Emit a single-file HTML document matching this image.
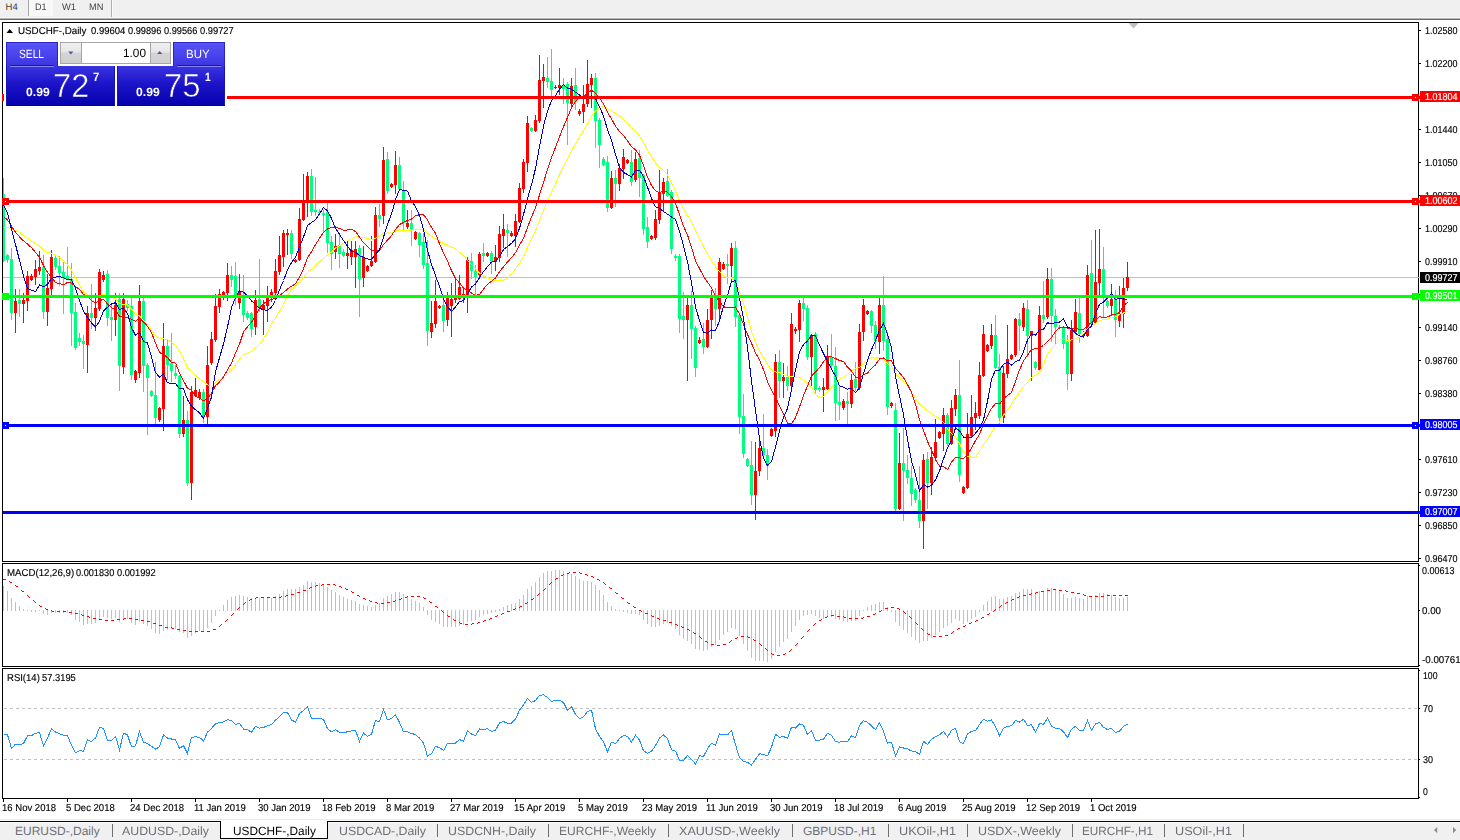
<!DOCTYPE html><html><head><meta charset="utf-8"><title>USDCHF-,Daily</title><style>
html,body{margin:0;padding:0;background:#fff;}body{width:1460px;height:840px;position:relative;overflow:hidden;font-family:"Liberation Sans",sans-serif;}
.t{position:absolute;white-space:nowrap;transform-origin:0 50%;text-rendering:geometricPrecision;}
.k{-webkit-text-stroke:0.15px;}.w{-webkit-text-stroke:0.2px #fff;}
.b{position:absolute;}
svg{position:absolute;left:0;top:0;}
</style></head><body>
<div class="b" style="left:0;top:0;width:1460px;height:17px;background:#f0f0f0"></div>
<div class="b" style="left:0;top:17px;width:1460px;height:1px;background:#f6f6f6"></div>
<div class="b" style="left:0;top:18px;width:1460px;height:1px;background:#b4b4b4"></div>
<div class="b" style="left:0;top:19px;width:1460px;height:1px;background:#696969"></div>
<div class="b" style="left:29px;top:0;width:24px;height:16px;background:#f8f8f8"></div>
<div class="b" style="left:28px;top:0;width:1px;height:16px;background:#a8a8a8"></div>
<div class="b" style="left:111px;top:0;width:1px;height:17px;background:#b0b0b0"></div>
<div class="b" style="left:112px;top:0;width:1px;height:17px;background:#fafafa"></div>
<div class="t" style="left:5.60px;top:3.00px;font-size:9.5px;line-height:9.5px;color:#454545;">H4</div>
<div class="t" style="left:34.50px;top:3.00px;font-size:9.5px;line-height:9.5px;color:#454545;transform:scaleX(0.9469);">D1</div>
<div class="t" style="left:62.00px;top:3.00px;font-size:9.5px;line-height:9.5px;color:#454545;transform:scaleX(0.9825);">W1</div>
<div class="t" style="left:88.70px;top:3.00px;font-size:9.5px;line-height:9.5px;color:#454545;transform:scaleX(0.9679);">MN</div>
<div class="b" style="left:0;top:20px;width:2px;height:800px;background:#fff"></div>
<svg width="1460" height="840" viewBox="0 0 1460 840" shape-rendering="crispEdges">
<rect x="3" y="277" width="1415" height="1" fill="#c0c0c0"/>
<path d="M1128.5 23 L1138.5 23 L1133.5 28.5 Z" fill="#c0c0c0" shape-rendering="auto"/>
<g>
<rect x="3" y="178" width="1" height="84" fill="#00FF7F"/>
<rect x="3" y="194" width="2" height="67" fill="#00FF7F"/>
<rect x="7" y="254" width="1" height="9" fill="#00FF7F"/>
<rect x="6" y="255" width="3" height="5" fill="#00FF7F"/>
<rect x="11" y="248" width="1" height="72" fill="#00FF7F"/>
<rect x="10" y="259" width="3" height="54" fill="#00FF7F"/>
<rect x="15" y="289" width="1" height="44" fill="#FF0000"/>
<rect x="14" y="301" width="3" height="12" fill="#FF0000"/>
<rect x="19" y="289" width="1" height="28" fill="#00FF7F"/>
<rect x="18" y="300" width="3" height="4" fill="#00FF7F"/>
<rect x="23" y="293" width="1" height="30" fill="#FF0000"/>
<rect x="22" y="300" width="3" height="4" fill="#FF0000"/>
<rect x="27" y="271" width="1" height="40" fill="#FF0000"/>
<rect x="26" y="276" width="3" height="25" fill="#FF0000"/>
<rect x="31" y="274" width="1" height="7" fill="#FF0000"/>
<rect x="30" y="276" width="3" height="4" fill="#FF0000"/>
<rect x="35" y="260" width="1" height="25" fill="#FF0000"/>
<rect x="34" y="269" width="3" height="8" fill="#FF0000"/>
<rect x="39" y="251" width="1" height="24" fill="#FF0000"/>
<rect x="38" y="267" width="3" height="4" fill="#FF0000"/>
<rect x="43" y="255" width="1" height="64" fill="#00FF7F"/>
<rect x="42" y="267" width="3" height="45" fill="#00FF7F"/>
<rect x="47" y="274" width="1" height="52" fill="#FF0000"/>
<rect x="46" y="288" width="3" height="24" fill="#FF0000"/>
<rect x="51" y="250" width="1" height="45" fill="#FF0000"/>
<rect x="50" y="257" width="3" height="32" fill="#FF0000"/>
<rect x="55" y="255" width="1" height="15" fill="#00FF7F"/>
<rect x="54" y="258" width="3" height="9" fill="#00FF7F"/>
<rect x="59" y="256" width="1" height="30" fill="#00FF7F"/>
<rect x="58" y="266" width="3" height="7" fill="#00FF7F"/>
<rect x="63" y="262" width="1" height="52" fill="#00FF7F"/>
<rect x="62" y="272" width="3" height="6" fill="#00FF7F"/>
<rect x="67" y="247" width="1" height="32" fill="#00FF7F"/>
<rect x="66" y="276" width="3" height="3" fill="#00FF7F"/>
<rect x="71" y="263" width="1" height="83" fill="#00FF7F"/>
<rect x="70" y="279" width="3" height="34" fill="#00FF7F"/>
<rect x="75" y="303" width="1" height="47" fill="#00FF7F"/>
<rect x="74" y="312" width="3" height="36" fill="#00FF7F"/>
<rect x="79" y="333" width="1" height="13" fill="#00FF7F"/>
<rect x="78" y="338" width="3" height="4" fill="#00FF7F"/>
<rect x="83" y="335" width="1" height="34" fill="#00FF7F"/>
<rect x="82" y="341" width="3" height="3" fill="#00FF7F"/>
<rect x="87" y="306" width="1" height="67" fill="#FF0000"/>
<rect x="86" y="313" width="3" height="32" fill="#FF0000"/>
<rect x="91" y="284" width="1" height="45" fill="#00FF7F"/>
<rect x="90" y="313" width="3" height="5" fill="#00FF7F"/>
<rect x="95" y="293" width="1" height="38" fill="#FF0000"/>
<rect x="94" y="308" width="3" height="10" fill="#FF0000"/>
<rect x="99" y="269" width="1" height="42" fill="#FF0000"/>
<rect x="98" y="272" width="3" height="37" fill="#FF0000"/>
<rect x="103" y="271" width="1" height="11" fill="#FF0000"/>
<rect x="102" y="275" width="3" height="5" fill="#FF0000"/>
<rect x="107" y="270" width="1" height="56" fill="#00FF7F"/>
<rect x="106" y="274" width="3" height="44" fill="#00FF7F"/>
<rect x="111" y="305" width="1" height="36" fill="#00FF7F"/>
<rect x="110" y="317" width="3" height="3" fill="#00FF7F"/>
<rect x="115" y="293" width="1" height="43" fill="#FF0000"/>
<rect x="114" y="305" width="3" height="15" fill="#FF0000"/>
<rect x="119" y="293" width="1" height="98" fill="#00FF7F"/>
<rect x="118" y="299" width="3" height="67" fill="#00FF7F"/>
<rect x="123" y="293" width="1" height="81" fill="#FF0000"/>
<rect x="122" y="299" width="3" height="68" fill="#FF0000"/>
<rect x="127" y="300" width="1" height="11" fill="#00FF7F"/>
<rect x="126" y="304" width="3" height="4" fill="#00FF7F"/>
<rect x="131" y="298" width="1" height="82" fill="#00FF7F"/>
<rect x="130" y="306" width="3" height="69" fill="#00FF7F"/>
<rect x="135" y="370" width="1" height="13" fill="#FF0000"/>
<rect x="134" y="371" width="3" height="9" fill="#FF0000"/>
<rect x="139" y="285" width="1" height="93" fill="#FF0000"/>
<rect x="138" y="301" width="3" height="72" fill="#FF0000"/>
<rect x="143" y="298" width="1" height="94" fill="#00FF7F"/>
<rect x="142" y="301" width="3" height="65" fill="#00FF7F"/>
<rect x="147" y="363" width="1" height="72" fill="#00FF7F"/>
<rect x="146" y="365" width="3" height="13" fill="#00FF7F"/>
<rect x="151" y="390" width="1" height="7" fill="#00FF7F"/>
<rect x="150" y="391" width="3" height="5" fill="#00FF7F"/>
<rect x="155" y="362" width="1" height="62" fill="#00FF7F"/>
<rect x="154" y="395" width="3" height="23" fill="#00FF7F"/>
<rect x="159" y="407" width="1" height="15" fill="#FF0000"/>
<rect x="158" y="408" width="3" height="12" fill="#FF0000"/>
<rect x="163" y="323" width="1" height="108" fill="#FF0000"/>
<rect x="162" y="346" width="3" height="63" fill="#FF0000"/>
<rect x="167" y="340" width="1" height="40" fill="#00FF7F"/>
<rect x="166" y="346" width="3" height="19" fill="#00FF7F"/>
<rect x="171" y="333" width="1" height="49" fill="#00FF7F"/>
<rect x="170" y="363" width="3" height="8" fill="#00FF7F"/>
<rect x="175" y="365" width="1" height="14" fill="#00FF7F"/>
<rect x="174" y="373" width="3" height="3" fill="#00FF7F"/>
<rect x="179" y="375" width="1" height="63" fill="#00FF7F"/>
<rect x="178" y="376" width="3" height="58" fill="#00FF7F"/>
<rect x="183" y="396" width="1" height="41" fill="#FF0000"/>
<rect x="182" y="420" width="3" height="14" fill="#FF0000"/>
<rect x="187" y="411" width="1" height="75" fill="#00FF7F"/>
<rect x="186" y="420" width="3" height="63" fill="#00FF7F"/>
<rect x="191" y="386" width="1" height="114" fill="#FF0000"/>
<rect x="190" y="392" width="3" height="91" fill="#FF0000"/>
<rect x="195" y="378" width="1" height="19" fill="#FF0000"/>
<rect x="194" y="390" width="3" height="6" fill="#FF0000"/>
<rect x="199" y="389" width="1" height="11" fill="#FF0000"/>
<rect x="198" y="392" width="3" height="6" fill="#FF0000"/>
<rect x="203" y="389" width="1" height="34" fill="#00FF7F"/>
<rect x="202" y="392" width="3" height="25" fill="#00FF7F"/>
<rect x="207" y="346" width="1" height="78" fill="#FF0000"/>
<rect x="206" y="365" width="3" height="52" fill="#FF0000"/>
<rect x="211" y="332" width="1" height="33" fill="#FF0000"/>
<rect x="210" y="339" width="3" height="24" fill="#FF0000"/>
<rect x="215" y="294" width="1" height="48" fill="#FF0000"/>
<rect x="214" y="306" width="3" height="34" fill="#FF0000"/>
<rect x="219" y="289" width="1" height="24" fill="#FF0000"/>
<rect x="218" y="294" width="3" height="13" fill="#FF0000"/>
<rect x="223" y="291" width="1" height="9" fill="#FF0000"/>
<rect x="222" y="292" width="3" height="4" fill="#FF0000"/>
<rect x="227" y="263" width="1" height="38" fill="#FF0000"/>
<rect x="226" y="275" width="3" height="18" fill="#FF0000"/>
<rect x="231" y="266" width="1" height="21" fill="#00FF7F"/>
<rect x="230" y="275" width="3" height="5" fill="#00FF7F"/>
<rect x="235" y="262" width="1" height="43" fill="#00FF7F"/>
<rect x="234" y="276" width="3" height="20" fill="#00FF7F"/>
<rect x="239" y="274" width="1" height="35" fill="#FF0000"/>
<rect x="238" y="291" width="3" height="12" fill="#FF0000"/>
<rect x="243" y="275" width="1" height="47" fill="#00FF7F"/>
<rect x="242" y="296" width="3" height="19" fill="#00FF7F"/>
<rect x="247" y="311" width="1" height="9" fill="#00FF7F"/>
<rect x="246" y="313" width="3" height="5" fill="#00FF7F"/>
<rect x="251" y="312" width="1" height="25" fill="#00FF7F"/>
<rect x="250" y="313" width="3" height="16" fill="#00FF7F"/>
<rect x="255" y="290" width="1" height="45" fill="#FF0000"/>
<rect x="254" y="300" width="3" height="27" fill="#FF0000"/>
<rect x="259" y="259" width="1" height="53" fill="#00FF7F"/>
<rect x="258" y="299" width="3" height="9" fill="#00FF7F"/>
<rect x="263" y="300" width="1" height="35" fill="#FF0000"/>
<rect x="262" y="305" width="3" height="4" fill="#FF0000"/>
<rect x="267" y="286" width="1" height="36" fill="#FF0000"/>
<rect x="266" y="297" width="3" height="9" fill="#FF0000"/>
<rect x="271" y="289" width="1" height="13" fill="#FF0000"/>
<rect x="270" y="292" width="3" height="4" fill="#FF0000"/>
<rect x="275" y="259" width="1" height="36" fill="#FF0000"/>
<rect x="274" y="271" width="3" height="22" fill="#FF0000"/>
<rect x="279" y="236" width="1" height="39" fill="#FF0000"/>
<rect x="278" y="255" width="3" height="17" fill="#FF0000"/>
<rect x="283" y="230" width="1" height="37" fill="#FF0000"/>
<rect x="282" y="233" width="3" height="24" fill="#FF0000"/>
<rect x="287" y="229" width="1" height="26" fill="#FF0000"/>
<rect x="286" y="233" width="3" height="2" fill="#FF0000"/>
<rect x="291" y="230" width="1" height="29" fill="#00FF7F"/>
<rect x="290" y="233" width="3" height="21" fill="#00FF7F"/>
<rect x="295" y="259" width="1" height="4" fill="#FF0000"/>
<rect x="294" y="260" width="3" height="2" fill="#FF0000"/>
<rect x="299" y="208" width="1" height="53" fill="#FF0000"/>
<rect x="298" y="219" width="3" height="41" fill="#FF0000"/>
<rect x="303" y="174" width="1" height="47" fill="#FF0000"/>
<rect x="302" y="201" width="3" height="19" fill="#FF0000"/>
<rect x="307" y="172" width="1" height="45" fill="#FF0000"/>
<rect x="306" y="176" width="3" height="25" fill="#FF0000"/>
<rect x="311" y="169" width="1" height="47" fill="#00FF7F"/>
<rect x="310" y="176" width="3" height="36" fill="#00FF7F"/>
<rect x="315" y="177" width="1" height="39" fill="#00FF7F"/>
<rect x="314" y="210" width="3" height="2" fill="#00FF7F"/>
<rect x="319" y="209" width="1" height="6" fill="#00FF7F"/>
<rect x="318" y="212" width="3" height="1" fill="#00FF7F"/>
<rect x="323" y="210" width="1" height="23" fill="#00FF7F"/>
<rect x="322" y="213" width="3" height="2" fill="#00FF7F"/>
<rect x="327" y="203" width="1" height="50" fill="#00FF7F"/>
<rect x="326" y="212" width="3" height="31" fill="#00FF7F"/>
<rect x="331" y="236" width="1" height="34" fill="#00FF7F"/>
<rect x="330" y="242" width="3" height="12" fill="#00FF7F"/>
<rect x="335" y="234" width="1" height="25" fill="#FF0000"/>
<rect x="334" y="246" width="3" height="6" fill="#FF0000"/>
<rect x="339" y="235" width="1" height="33" fill="#00FF7F"/>
<rect x="338" y="245" width="3" height="9" fill="#00FF7F"/>
<rect x="343" y="249" width="1" height="8" fill="#00FF7F"/>
<rect x="342" y="252" width="3" height="4" fill="#00FF7F"/>
<rect x="347" y="240" width="1" height="29" fill="#FF0000"/>
<rect x="346" y="253" width="3" height="3" fill="#FF0000"/>
<rect x="351" y="241" width="1" height="24" fill="#FF0000"/>
<rect x="350" y="250" width="3" height="7" fill="#FF0000"/>
<rect x="355" y="241" width="1" height="47" fill="#FF0000"/>
<rect x="354" y="249" width="3" height="8" fill="#FF0000"/>
<rect x="359" y="245" width="1" height="72" fill="#00FF7F"/>
<rect x="358" y="248" width="3" height="31" fill="#00FF7F"/>
<rect x="363" y="246" width="1" height="41" fill="#FF0000"/>
<rect x="362" y="257" width="3" height="21" fill="#FF0000"/>
<rect x="367" y="265" width="1" height="7" fill="#FF0000"/>
<rect x="366" y="266" width="3" height="5" fill="#FF0000"/>
<rect x="371" y="236" width="1" height="31" fill="#FF0000"/>
<rect x="370" y="261" width="3" height="5" fill="#FF0000"/>
<rect x="375" y="207" width="1" height="56" fill="#FF0000"/>
<rect x="374" y="215" width="3" height="47" fill="#FF0000"/>
<rect x="379" y="204" width="1" height="23" fill="#00FF7F"/>
<rect x="378" y="215" width="3" height="4" fill="#00FF7F"/>
<rect x="383" y="147" width="1" height="77" fill="#FF0000"/>
<rect x="382" y="160" width="3" height="56" fill="#FF0000"/>
<rect x="387" y="152" width="1" height="42" fill="#00FF7F"/>
<rect x="386" y="159" width="3" height="32" fill="#00FF7F"/>
<rect x="391" y="183" width="1" height="5" fill="#FF0000"/>
<rect x="390" y="184" width="3" height="3" fill="#FF0000"/>
<rect x="395" y="151" width="1" height="43" fill="#FF0000"/>
<rect x="394" y="165" width="3" height="20" fill="#FF0000"/>
<rect x="399" y="157" width="1" height="34" fill="#00FF7F"/>
<rect x="398" y="165" width="3" height="24" fill="#00FF7F"/>
<rect x="403" y="181" width="1" height="50" fill="#00FF7F"/>
<rect x="402" y="191" width="3" height="32" fill="#00FF7F"/>
<rect x="407" y="210" width="1" height="19" fill="#FF0000"/>
<rect x="406" y="223" width="3" height="4" fill="#FF0000"/>
<rect x="411" y="210" width="1" height="36" fill="#00FF7F"/>
<rect x="410" y="223" width="3" height="6" fill="#00FF7F"/>
<rect x="415" y="231" width="1" height="9" fill="#FF0000"/>
<rect x="414" y="232" width="3" height="7" fill="#FF0000"/>
<rect x="419" y="232" width="1" height="25" fill="#00FF7F"/>
<rect x="418" y="233" width="3" height="12" fill="#00FF7F"/>
<rect x="423" y="233" width="1" height="36" fill="#00FF7F"/>
<rect x="422" y="242" width="3" height="23" fill="#00FF7F"/>
<rect x="427" y="240" width="1" height="106" fill="#00FF7F"/>
<rect x="426" y="263" width="3" height="68" fill="#00FF7F"/>
<rect x="431" y="301" width="1" height="37" fill="#FF0000"/>
<rect x="430" y="323" width="3" height="9" fill="#FF0000"/>
<rect x="435" y="280" width="1" height="48" fill="#FF0000"/>
<rect x="434" y="301" width="3" height="23" fill="#FF0000"/>
<rect x="439" y="305" width="1" height="4" fill="#FF0000"/>
<rect x="438" y="306" width="3" height="2" fill="#FF0000"/>
<rect x="443" y="297" width="1" height="35" fill="#00FF7F"/>
<rect x="442" y="305" width="3" height="16" fill="#00FF7F"/>
<rect x="447" y="292" width="1" height="34" fill="#FF0000"/>
<rect x="446" y="297" width="3" height="23" fill="#FF0000"/>
<rect x="451" y="283" width="1" height="54" fill="#FF0000"/>
<rect x="450" y="299" width="3" height="7" fill="#FF0000"/>
<rect x="455" y="279" width="1" height="24" fill="#FF0000"/>
<rect x="454" y="298" width="3" height="2" fill="#FF0000"/>
<rect x="459" y="275" width="1" height="25" fill="#FF0000"/>
<rect x="458" y="287" width="3" height="12" fill="#FF0000"/>
<rect x="463" y="287" width="1" height="16" fill="#FF0000"/>
<rect x="462" y="294" width="3" height="4" fill="#FF0000"/>
<rect x="467" y="257" width="1" height="56" fill="#FF0000"/>
<rect x="466" y="260" width="3" height="36" fill="#FF0000"/>
<rect x="471" y="253" width="1" height="26" fill="#00FF7F"/>
<rect x="470" y="261" width="3" height="10" fill="#00FF7F"/>
<rect x="475" y="265" width="1" height="31" fill="#00FF7F"/>
<rect x="474" y="271" width="3" height="6" fill="#00FF7F"/>
<rect x="479" y="252" width="1" height="26" fill="#FF0000"/>
<rect x="478" y="254" width="3" height="21" fill="#FF0000"/>
<rect x="483" y="243" width="1" height="19" fill="#00FF7F"/>
<rect x="482" y="253" width="3" height="3" fill="#00FF7F"/>
<rect x="487" y="252" width="1" height="5" fill="#FF0000"/>
<rect x="486" y="253" width="3" height="3" fill="#FF0000"/>
<rect x="491" y="251" width="1" height="23" fill="#00FF7F"/>
<rect x="490" y="253" width="3" height="8" fill="#00FF7F"/>
<rect x="495" y="245" width="1" height="26" fill="#FF0000"/>
<rect x="494" y="257" width="3" height="5" fill="#FF0000"/>
<rect x="499" y="226" width="1" height="36" fill="#FF0000"/>
<rect x="498" y="234" width="3" height="24" fill="#FF0000"/>
<rect x="503" y="214" width="1" height="34" fill="#FF0000"/>
<rect x="502" y="229" width="3" height="7" fill="#FF0000"/>
<rect x="507" y="224" width="1" height="33" fill="#00FF7F"/>
<rect x="506" y="230" width="3" height="3" fill="#00FF7F"/>
<rect x="511" y="231" width="1" height="6" fill="#FF0000"/>
<rect x="510" y="233" width="3" height="3" fill="#FF0000"/>
<rect x="515" y="214" width="1" height="33" fill="#FF0000"/>
<rect x="514" y="221" width="3" height="15" fill="#FF0000"/>
<rect x="519" y="183" width="1" height="40" fill="#FF0000"/>
<rect x="518" y="188" width="3" height="34" fill="#FF0000"/>
<rect x="523" y="159" width="1" height="34" fill="#FF0000"/>
<rect x="522" y="162" width="3" height="27" fill="#FF0000"/>
<rect x="527" y="116" width="1" height="56" fill="#FF0000"/>
<rect x="526" y="123" width="3" height="40" fill="#FF0000"/>
<rect x="531" y="127" width="1" height="5" fill="#00FF7F"/>
<rect x="530" y="128" width="3" height="3" fill="#00FF7F"/>
<rect x="535" y="115" width="1" height="17" fill="#FF0000"/>
<rect x="534" y="120" width="3" height="11" fill="#FF0000"/>
<rect x="539" y="55" width="1" height="68" fill="#FF0000"/>
<rect x="538" y="80" width="3" height="41" fill="#FF0000"/>
<rect x="543" y="64" width="1" height="44" fill="#FF0000"/>
<rect x="542" y="77" width="3" height="4" fill="#FF0000"/>
<rect x="547" y="57" width="1" height="31" fill="#00FF7F"/>
<rect x="546" y="78" width="3" height="4" fill="#00FF7F"/>
<rect x="551" y="49" width="1" height="48" fill="#00FF7F"/>
<rect x="550" y="81" width="3" height="9" fill="#00FF7F"/>
<rect x="555" y="85" width="1" height="4" fill="#FF0000"/>
<rect x="554" y="87" width="3" height="1" fill="#FF0000"/>
<rect x="559" y="68" width="1" height="27" fill="#FF0000"/>
<rect x="558" y="85" width="3" height="3" fill="#FF0000"/>
<rect x="563" y="78" width="1" height="26" fill="#00FF7F"/>
<rect x="562" y="85" width="3" height="4" fill="#00FF7F"/>
<rect x="567" y="82" width="1" height="63" fill="#00FF7F"/>
<rect x="566" y="84" width="3" height="19" fill="#00FF7F"/>
<rect x="571" y="78" width="1" height="29" fill="#FF0000"/>
<rect x="570" y="86" width="3" height="18" fill="#FF0000"/>
<rect x="575" y="68" width="1" height="42" fill="#00FF7F"/>
<rect x="574" y="85" width="3" height="17" fill="#00FF7F"/>
<rect x="579" y="109" width="1" height="7" fill="#FF0000"/>
<rect x="578" y="111" width="3" height="3" fill="#FF0000"/>
<rect x="583" y="85" width="1" height="38" fill="#FF0000"/>
<rect x="582" y="104" width="3" height="8" fill="#FF0000"/>
<rect x="587" y="60" width="1" height="47" fill="#FF0000"/>
<rect x="586" y="84" width="3" height="20" fill="#FF0000"/>
<rect x="591" y="74" width="1" height="34" fill="#FF0000"/>
<rect x="590" y="78" width="3" height="7" fill="#FF0000"/>
<rect x="595" y="73" width="1" height="75" fill="#00FF7F"/>
<rect x="594" y="78" width="3" height="43" fill="#00FF7F"/>
<rect x="599" y="118" width="1" height="50" fill="#00FF7F"/>
<rect x="598" y="120" width="3" height="25" fill="#00FF7F"/>
<rect x="603" y="157" width="1" height="9" fill="#00FF7F"/>
<rect x="602" y="159" width="3" height="6" fill="#00FF7F"/>
<rect x="607" y="156" width="1" height="56" fill="#00FF7F"/>
<rect x="606" y="162" width="3" height="46" fill="#00FF7F"/>
<rect x="611" y="171" width="1" height="38" fill="#FF0000"/>
<rect x="610" y="178" width="3" height="30" fill="#FF0000"/>
<rect x="615" y="170" width="1" height="37" fill="#00FF7F"/>
<rect x="614" y="178" width="3" height="6" fill="#00FF7F"/>
<rect x="619" y="164" width="1" height="27" fill="#FF0000"/>
<rect x="618" y="168" width="3" height="16" fill="#FF0000"/>
<rect x="623" y="149" width="1" height="30" fill="#FF0000"/>
<rect x="622" y="157" width="3" height="12" fill="#FF0000"/>
<rect x="627" y="159" width="1" height="5" fill="#FF0000"/>
<rect x="626" y="160" width="3" height="3" fill="#FF0000"/>
<rect x="631" y="150" width="1" height="36" fill="#00FF7F"/>
<rect x="630" y="162" width="3" height="20" fill="#00FF7F"/>
<rect x="635" y="152" width="1" height="30" fill="#FF0000"/>
<rect x="634" y="159" width="3" height="21" fill="#FF0000"/>
<rect x="639" y="150" width="1" height="47" fill="#00FF7F"/>
<rect x="638" y="158" width="3" height="20" fill="#00FF7F"/>
<rect x="643" y="174" width="1" height="61" fill="#00FF7F"/>
<rect x="642" y="175" width="3" height="54" fill="#00FF7F"/>
<rect x="647" y="217" width="1" height="31" fill="#00FF7F"/>
<rect x="646" y="227" width="3" height="15" fill="#00FF7F"/>
<rect x="651" y="235" width="1" height="5" fill="#FF0000"/>
<rect x="650" y="236" width="3" height="3" fill="#FF0000"/>
<rect x="655" y="210" width="1" height="30" fill="#FF0000"/>
<rect x="654" y="219" width="3" height="19" fill="#FF0000"/>
<rect x="659" y="170" width="1" height="54" fill="#FF0000"/>
<rect x="658" y="192" width="3" height="28" fill="#FF0000"/>
<rect x="663" y="178" width="1" height="34" fill="#FF0000"/>
<rect x="662" y="182" width="3" height="12" fill="#FF0000"/>
<rect x="667" y="169" width="1" height="28" fill="#00FF7F"/>
<rect x="666" y="181" width="3" height="15" fill="#00FF7F"/>
<rect x="671" y="190" width="1" height="64" fill="#00FF7F"/>
<rect x="670" y="192" width="3" height="57" fill="#00FF7F"/>
<rect x="675" y="254" width="1" height="7" fill="#00FF7F"/>
<rect x="674" y="256" width="3" height="2" fill="#00FF7F"/>
<rect x="679" y="254" width="1" height="79" fill="#00FF7F"/>
<rect x="678" y="256" width="3" height="63" fill="#00FF7F"/>
<rect x="683" y="292" width="1" height="47" fill="#00FF7F"/>
<rect x="682" y="316" width="3" height="4" fill="#00FF7F"/>
<rect x="687" y="298" width="1" height="83" fill="#FF0000"/>
<rect x="686" y="305" width="3" height="15" fill="#FF0000"/>
<rect x="691" y="291" width="1" height="68" fill="#00FF7F"/>
<rect x="690" y="305" width="3" height="24" fill="#00FF7F"/>
<rect x="695" y="326" width="1" height="51" fill="#00FF7F"/>
<rect x="694" y="328" width="3" height="40" fill="#00FF7F"/>
<rect x="699" y="337" width="1" height="7" fill="#FF0000"/>
<rect x="698" y="340" width="3" height="3" fill="#FF0000"/>
<rect x="703" y="323" width="1" height="31" fill="#00FF7F"/>
<rect x="702" y="339" width="3" height="8" fill="#00FF7F"/>
<rect x="707" y="309" width="1" height="39" fill="#FF0000"/>
<rect x="706" y="320" width="3" height="27" fill="#FF0000"/>
<rect x="711" y="290" width="1" height="49" fill="#FF0000"/>
<rect x="710" y="298" width="3" height="22" fill="#FF0000"/>
<rect x="715" y="288" width="1" height="38" fill="#00FF7F"/>
<rect x="714" y="298" width="3" height="11" fill="#00FF7F"/>
<rect x="719" y="258" width="1" height="62" fill="#FF0000"/>
<rect x="718" y="262" width="3" height="47" fill="#FF0000"/>
<rect x="723" y="262" width="1" height="8" fill="#FF0000"/>
<rect x="722" y="264" width="3" height="5" fill="#FF0000"/>
<rect x="727" y="254" width="1" height="30" fill="#00FF7F"/>
<rect x="726" y="264" width="3" height="2" fill="#00FF7F"/>
<rect x="731" y="243" width="1" height="39" fill="#FF0000"/>
<rect x="730" y="248" width="3" height="18" fill="#FF0000"/>
<rect x="735" y="241" width="1" height="86" fill="#00FF7F"/>
<rect x="734" y="248" width="3" height="69" fill="#00FF7F"/>
<rect x="739" y="313" width="1" height="121" fill="#00FF7F"/>
<rect x="738" y="315" width="3" height="102" fill="#00FF7F"/>
<rect x="743" y="394" width="1" height="64" fill="#00FF7F"/>
<rect x="742" y="416" width="3" height="38" fill="#00FF7F"/>
<rect x="747" y="458" width="1" height="9" fill="#00FF7F"/>
<rect x="746" y="459" width="3" height="7" fill="#00FF7F"/>
<rect x="751" y="441" width="1" height="64" fill="#00FF7F"/>
<rect x="750" y="465" width="3" height="30" fill="#00FF7F"/>
<rect x="755" y="442" width="1" height="78" fill="#FF0000"/>
<rect x="754" y="471" width="3" height="24" fill="#FF0000"/>
<rect x="759" y="440" width="1" height="36" fill="#FF0000"/>
<rect x="758" y="448" width="3" height="23" fill="#FF0000"/>
<rect x="763" y="414" width="1" height="44" fill="#00FF7F"/>
<rect x="762" y="448" width="3" height="7" fill="#00FF7F"/>
<rect x="767" y="449" width="1" height="31" fill="#00FF7F"/>
<rect x="766" y="455" width="3" height="11" fill="#00FF7F"/>
<rect x="771" y="428" width="1" height="9" fill="#FF0000"/>
<rect x="770" y="429" width="3" height="7" fill="#FF0000"/>
<rect x="775" y="354" width="1" height="83" fill="#FF0000"/>
<rect x="774" y="362" width="3" height="69" fill="#FF0000"/>
<rect x="779" y="350" width="1" height="48" fill="#00FF7F"/>
<rect x="778" y="362" width="3" height="19" fill="#00FF7F"/>
<rect x="783" y="363" width="1" height="35" fill="#FF0000"/>
<rect x="782" y="377" width="3" height="4" fill="#FF0000"/>
<rect x="787" y="366" width="1" height="25" fill="#00FF7F"/>
<rect x="786" y="377" width="3" height="9" fill="#00FF7F"/>
<rect x="791" y="313" width="1" height="74" fill="#FF0000"/>
<rect x="790" y="324" width="3" height="62" fill="#FF0000"/>
<rect x="795" y="327" width="1" height="7" fill="#FF0000"/>
<rect x="794" y="329" width="3" height="2" fill="#FF0000"/>
<rect x="799" y="300" width="1" height="42" fill="#FF0000"/>
<rect x="798" y="303" width="3" height="27" fill="#FF0000"/>
<rect x="803" y="298" width="1" height="23" fill="#00FF7F"/>
<rect x="802" y="303" width="3" height="6" fill="#00FF7F"/>
<rect x="807" y="305" width="1" height="55" fill="#00FF7F"/>
<rect x="806" y="308" width="3" height="49" fill="#00FF7F"/>
<rect x="811" y="334" width="1" height="52" fill="#FF0000"/>
<rect x="810" y="335" width="3" height="22" fill="#FF0000"/>
<rect x="815" y="332" width="1" height="63" fill="#00FF7F"/>
<rect x="814" y="334" width="3" height="56" fill="#00FF7F"/>
<rect x="819" y="386" width="1" height="6" fill="#00FF7F"/>
<rect x="818" y="388" width="3" height="2" fill="#00FF7F"/>
<rect x="823" y="378" width="1" height="34" fill="#FF0000"/>
<rect x="822" y="387" width="3" height="3" fill="#FF0000"/>
<rect x="827" y="345" width="1" height="45" fill="#FF0000"/>
<rect x="826" y="356" width="3" height="33" fill="#FF0000"/>
<rect x="831" y="334" width="1" height="35" fill="#00FF7F"/>
<rect x="830" y="357" width="3" height="9" fill="#00FF7F"/>
<rect x="835" y="347" width="1" height="74" fill="#00FF7F"/>
<rect x="834" y="366" width="3" height="37" fill="#00FF7F"/>
<rect x="839" y="385" width="1" height="35" fill="#00FF7F"/>
<rect x="838" y="402" width="3" height="3" fill="#00FF7F"/>
<rect x="843" y="399" width="1" height="11" fill="#FF0000"/>
<rect x="842" y="401" width="3" height="7" fill="#FF0000"/>
<rect x="847" y="392" width="1" height="32" fill="#00FF7F"/>
<rect x="846" y="401" width="3" height="3" fill="#00FF7F"/>
<rect x="851" y="374" width="1" height="34" fill="#FF0000"/>
<rect x="850" y="380" width="3" height="24" fill="#FF0000"/>
<rect x="855" y="362" width="1" height="29" fill="#00FF7F"/>
<rect x="854" y="379" width="3" height="9" fill="#00FF7F"/>
<rect x="859" y="324" width="1" height="66" fill="#FF0000"/>
<rect x="858" y="332" width="3" height="56" fill="#FF0000"/>
<rect x="863" y="299" width="1" height="42" fill="#FF0000"/>
<rect x="862" y="305" width="3" height="27" fill="#FF0000"/>
<rect x="867" y="310" width="1" height="5" fill="#FF0000"/>
<rect x="866" y="311" width="3" height="3" fill="#FF0000"/>
<rect x="871" y="310" width="1" height="23" fill="#00FF7F"/>
<rect x="870" y="311" width="3" height="15" fill="#00FF7F"/>
<rect x="875" y="321" width="1" height="28" fill="#00FF7F"/>
<rect x="874" y="325" width="3" height="16" fill="#00FF7F"/>
<rect x="879" y="298" width="1" height="56" fill="#FF0000"/>
<rect x="878" y="305" width="3" height="37" fill="#FF0000"/>
<rect x="883" y="276" width="1" height="75" fill="#00FF7F"/>
<rect x="882" y="305" width="3" height="36" fill="#00FF7F"/>
<rect x="887" y="332" width="1" height="83" fill="#00FF7F"/>
<rect x="886" y="339" width="3" height="68" fill="#00FF7F"/>
<rect x="891" y="402" width="1" height="6" fill="#FF0000"/>
<rect x="890" y="403" width="3" height="3" fill="#FF0000"/>
<rect x="895" y="403" width="1" height="108" fill="#00FF7F"/>
<rect x="894" y="410" width="3" height="99" fill="#00FF7F"/>
<rect x="899" y="433" width="1" height="77" fill="#FF0000"/>
<rect x="898" y="463" width="3" height="46" fill="#FF0000"/>
<rect x="903" y="428" width="1" height="93" fill="#00FF7F"/>
<rect x="902" y="463" width="3" height="8" fill="#00FF7F"/>
<rect x="907" y="455" width="1" height="29" fill="#00FF7F"/>
<rect x="906" y="470" width="3" height="8" fill="#00FF7F"/>
<rect x="911" y="466" width="1" height="40" fill="#00FF7F"/>
<rect x="910" y="478" width="3" height="16" fill="#00FF7F"/>
<rect x="915" y="488" width="1" height="15" fill="#00FF7F"/>
<rect x="914" y="490" width="3" height="10" fill="#00FF7F"/>
<rect x="919" y="466" width="1" height="62" fill="#00FF7F"/>
<rect x="918" y="500" width="3" height="21" fill="#00FF7F"/>
<rect x="923" y="454" width="1" height="95" fill="#FF0000"/>
<rect x="922" y="460" width="3" height="61" fill="#FF0000"/>
<rect x="927" y="452" width="1" height="57" fill="#00FF7F"/>
<rect x="926" y="459" width="3" height="24" fill="#00FF7F"/>
<rect x="931" y="447" width="1" height="48" fill="#FF0000"/>
<rect x="930" y="457" width="3" height="26" fill="#FF0000"/>
<rect x="935" y="419" width="1" height="40" fill="#FF0000"/>
<rect x="934" y="442" width="3" height="16" fill="#FF0000"/>
<rect x="939" y="431" width="1" height="8" fill="#FF0000"/>
<rect x="938" y="432" width="3" height="6" fill="#FF0000"/>
<rect x="943" y="408" width="1" height="43" fill="#FF0000"/>
<rect x="942" y="415" width="3" height="19" fill="#FF0000"/>
<rect x="947" y="413" width="1" height="33" fill="#00FF7F"/>
<rect x="946" y="415" width="3" height="29" fill="#00FF7F"/>
<rect x="951" y="400" width="1" height="45" fill="#FF0000"/>
<rect x="950" y="408" width="3" height="36" fill="#FF0000"/>
<rect x="955" y="389" width="1" height="27" fill="#FF0000"/>
<rect x="954" y="395" width="3" height="14" fill="#FF0000"/>
<rect x="959" y="360" width="1" height="122" fill="#00FF7F"/>
<rect x="958" y="395" width="3" height="80" fill="#00FF7F"/>
<rect x="963" y="486" width="1" height="8" fill="#FF0000"/>
<rect x="962" y="487" width="3" height="6" fill="#FF0000"/>
<rect x="967" y="413" width="1" height="76" fill="#FF0000"/>
<rect x="966" y="434" width="3" height="54" fill="#FF0000"/>
<rect x="971" y="395" width="1" height="43" fill="#FF0000"/>
<rect x="970" y="417" width="3" height="19" fill="#FF0000"/>
<rect x="975" y="402" width="1" height="28" fill="#FF0000"/>
<rect x="974" y="413" width="3" height="5" fill="#FF0000"/>
<rect x="979" y="362" width="1" height="57" fill="#FF0000"/>
<rect x="978" y="375" width="3" height="41" fill="#FF0000"/>
<rect x="983" y="325" width="1" height="52" fill="#FF0000"/>
<rect x="982" y="334" width="3" height="42" fill="#FF0000"/>
<rect x="987" y="344" width="1" height="8" fill="#FF0000"/>
<rect x="986" y="345" width="3" height="6" fill="#FF0000"/>
<rect x="991" y="324" width="1" height="25" fill="#FF0000"/>
<rect x="990" y="335" width="3" height="11" fill="#FF0000"/>
<rect x="995" y="315" width="1" height="54" fill="#00FF7F"/>
<rect x="994" y="335" width="3" height="33" fill="#00FF7F"/>
<rect x="999" y="354" width="1" height="70" fill="#00FF7F"/>
<rect x="998" y="367" width="3" height="51" fill="#00FF7F"/>
<rect x="1003" y="366" width="1" height="57" fill="#FF0000"/>
<rect x="1002" y="373" width="3" height="45" fill="#FF0000"/>
<rect x="1007" y="325" width="1" height="53" fill="#FF0000"/>
<rect x="1006" y="359" width="3" height="15" fill="#FF0000"/>
<rect x="1011" y="354" width="1" height="6" fill="#FF0000"/>
<rect x="1010" y="355" width="3" height="4" fill="#FF0000"/>
<rect x="1015" y="318" width="1" height="39" fill="#FF0000"/>
<rect x="1014" y="319" width="3" height="36" fill="#FF0000"/>
<rect x="1019" y="313" width="1" height="38" fill="#00FF7F"/>
<rect x="1018" y="319" width="3" height="7" fill="#00FF7F"/>
<rect x="1023" y="303" width="1" height="28" fill="#FF0000"/>
<rect x="1022" y="308" width="3" height="19" fill="#FF0000"/>
<rect x="1027" y="300" width="1" height="57" fill="#00FF7F"/>
<rect x="1026" y="309" width="3" height="27" fill="#00FF7F"/>
<rect x="1031" y="331" width="1" height="50" fill="#FF0000"/>
<rect x="1030" y="331" width="3" height="5" fill="#FF0000"/>
<rect x="1035" y="361" width="1" height="9" fill="#00FF7F"/>
<rect x="1034" y="362" width="3" height="6" fill="#00FF7F"/>
<rect x="1039" y="306" width="1" height="65" fill="#FF0000"/>
<rect x="1038" y="315" width="3" height="55" fill="#FF0000"/>
<rect x="1043" y="281" width="1" height="42" fill="#00FF7F"/>
<rect x="1042" y="315" width="3" height="4" fill="#00FF7F"/>
<rect x="1047" y="268" width="1" height="51" fill="#FF0000"/>
<rect x="1046" y="279" width="3" height="38" fill="#FF0000"/>
<rect x="1051" y="268" width="1" height="74" fill="#00FF7F"/>
<rect x="1050" y="279" width="3" height="37" fill="#00FF7F"/>
<rect x="1055" y="309" width="1" height="36" fill="#00FF7F"/>
<rect x="1054" y="316" width="3" height="11" fill="#00FF7F"/>
<rect x="1059" y="325" width="1" height="4" fill="#00FF7F"/>
<rect x="1058" y="327" width="3" height="1" fill="#00FF7F"/>
<rect x="1063" y="327" width="1" height="22" fill="#00FF7F"/>
<rect x="1062" y="328" width="3" height="16" fill="#00FF7F"/>
<rect x="1067" y="335" width="1" height="55" fill="#00FF7F"/>
<rect x="1066" y="342" width="3" height="32" fill="#00FF7F"/>
<rect x="1071" y="320" width="1" height="61" fill="#FF0000"/>
<rect x="1070" y="330" width="3" height="44" fill="#FF0000"/>
<rect x="1075" y="299" width="1" height="34" fill="#FF0000"/>
<rect x="1074" y="312" width="3" height="20" fill="#FF0000"/>
<rect x="1079" y="298" width="1" height="45" fill="#00FF7F"/>
<rect x="1078" y="313" width="3" height="21" fill="#00FF7F"/>
<rect x="1083" y="331" width="1" height="7" fill="#FF0000"/>
<rect x="1082" y="333" width="3" height="3" fill="#FF0000"/>
<rect x="1087" y="265" width="1" height="72" fill="#FF0000"/>
<rect x="1086" y="275" width="3" height="61" fill="#FF0000"/>
<rect x="1091" y="240" width="1" height="84" fill="#00FF7F"/>
<rect x="1090" y="273" width="3" height="50" fill="#00FF7F"/>
<rect x="1095" y="230" width="1" height="94" fill="#FF0000"/>
<rect x="1094" y="282" width="3" height="41" fill="#FF0000"/>
<rect x="1099" y="229" width="1" height="66" fill="#FF0000"/>
<rect x="1098" y="269" width="3" height="14" fill="#FF0000"/>
<rect x="1103" y="247" width="1" height="70" fill="#00FF7F"/>
<rect x="1102" y="269" width="3" height="26" fill="#00FF7F"/>
<rect x="1107" y="300" width="1" height="8" fill="#00FF7F"/>
<rect x="1106" y="301" width="3" height="5" fill="#00FF7F"/>
<rect x="1111" y="284" width="1" height="30" fill="#FF0000"/>
<rect x="1110" y="299" width="3" height="7" fill="#FF0000"/>
<rect x="1115" y="290" width="1" height="47" fill="#00FF7F"/>
<rect x="1114" y="299" width="3" height="21" fill="#00FF7F"/>
<rect x="1119" y="286" width="1" height="41" fill="#FF0000"/>
<rect x="1118" y="313" width="3" height="8" fill="#FF0000"/>
<rect x="1123" y="278" width="1" height="50" fill="#FF0000"/>
<rect x="1122" y="288" width="3" height="26" fill="#FF0000"/>
<rect x="1127" y="262" width="1" height="29" fill="#FF0000"/>
<rect x="1126" y="277" width="3" height="11" fill="#FF0000"/>
</g>
<polyline points="3.5,227.0 7.5,227.0 11.5,229.2 15.5,230.6 19.5,232.2 23.5,235.5 27.5,238.2 31.5,241.2 35.5,243.7 39.5,245.9 43.5,250.3 47.5,252.7 51.5,253.3 55.5,255.0 59.5,257.3 63.5,260.9 67.5,264.7 71.5,270.3 75.5,277.7 79.5,285.0 83.5,292.2 87.5,294.7 91.5,297.5 95.5,297.2 99.5,295.9 103.5,294.5 107.5,295.4 111.5,297.5 115.5,298.8 119.5,303.5 123.5,305.0 127.5,304.8 131.5,308.9 135.5,314.4 139.5,315.9 143.5,320.4 147.5,325.1 151.5,330.7 155.5,335.7 159.5,338.6 163.5,338.8 167.5,339.7 171.5,342.5 175.5,345.3 179.5,351.3 183.5,358.3 187.5,368.2 191.5,371.7 195.5,375.0 199.5,379.2 203.5,381.6 207.5,384.7 211.5,386.2 215.5,382.9 219.5,379.2 223.5,378.8 227.5,374.5 231.5,369.8 235.5,365.0 239.5,359.0 243.5,354.5 247.5,353.2 251.5,351.5 255.5,348.1 259.5,344.8 263.5,338.7 267.5,332.8 271.5,323.7 275.5,318.0 279.5,311.6 283.5,304.0 287.5,295.2 291.5,290.0 295.5,286.2 299.5,282.1 303.5,277.7 307.5,272.2 311.5,269.2 315.5,266.0 319.5,262.0 323.5,258.4 327.5,255.0 331.5,251.9 335.5,248.0 339.5,245.8 343.5,243.3 347.5,240.9 351.5,238.7 355.5,236.6 359.5,237.0 363.5,237.1 367.5,238.6 371.5,240.0 375.5,238.1 379.5,236.2 383.5,233.4 387.5,232.9 391.5,233.3 395.5,231.0 399.5,229.9 403.5,230.4 407.5,230.7 411.5,230.1 415.5,229.0 419.5,229.0 423.5,229.5 427.5,233.1 431.5,236.4 435.5,238.8 439.5,241.5 443.5,243.5 447.5,245.4 451.5,247.0 455.5,248.8 459.5,252.2 463.5,255.8 467.5,260.5 471.5,264.3 475.5,268.7 479.5,273.0 483.5,276.1 487.5,277.6 491.5,279.4 495.5,280.7 499.5,280.8 503.5,280.1 507.5,278.6 511.5,273.9 515.5,269.0 519.5,263.7 523.5,256.8 527.5,247.4 531.5,239.4 535.5,230.9 539.5,220.5 543.5,210.5 547.5,200.4 551.5,192.3 555.5,183.6 559.5,174.4 563.5,166.6 567.5,159.3 571.5,151.3 575.5,143.8 579.5,136.8 583.5,130.7 587.5,123.7 591.5,116.3 595.5,111.0 599.5,107.4 603.5,106.3 607.5,108.5 611.5,111.1 615.5,113.7 619.5,116.0 623.5,119.6 627.5,123.6 631.5,128.3 635.5,131.7 639.5,136.0 643.5,142.8 647.5,150.1 651.5,156.5 655.5,162.8 659.5,167.1 663.5,170.5 667.5,174.8 671.5,182.7 675.5,191.3 679.5,200.7 683.5,209.0 687.5,215.7 691.5,221.5 695.5,230.5 699.5,237.9 703.5,246.5 707.5,254.2 711.5,260.8 715.5,266.8 719.5,271.7 723.5,275.8 727.5,277.6 731.5,277.9 735.5,281.7 739.5,291.2 743.5,303.6 747.5,317.2 751.5,331.4 755.5,342.0 759.5,351.0 763.5,357.5 767.5,364.4 771.5,370.3 775.5,371.9 779.5,372.5 783.5,374.3 787.5,376.1 791.5,376.3 795.5,377.8 799.5,377.5 803.5,379.7 807.5,384.2 811.5,387.5 815.5,394.3 819.5,397.8 823.5,396.3 827.5,391.7 831.5,386.9 835.5,382.5 839.5,379.4 843.5,377.1 847.5,374.7 851.5,370.6 855.5,368.6 859.5,367.2 863.5,363.6 867.5,360.4 871.5,357.6 875.5,358.3 879.5,357.2 883.5,359.1 887.5,363.7 891.5,365.9 895.5,374.2 899.5,377.6 903.5,381.4 907.5,385.8 911.5,392.4 915.5,398.7 919.5,404.3 923.5,407.0 927.5,410.9 931.5,413.4 935.5,416.4 939.5,418.5 943.5,422.4 947.5,429.1 951.5,433.7 955.5,437.0 959.5,443.4 963.5,452.1 967.5,456.5 971.5,457.0 975.5,457.5 979.5,451.1 983.5,445.0 987.5,439.0 991.5,432.2 995.5,426.2 999.5,422.3 1003.5,415.2 1007.5,410.4 1011.5,404.3 1015.5,397.8 1019.5,392.3 1023.5,386.4 1027.5,382.6 1031.5,377.3 1035.5,375.4 1039.5,371.5 1043.5,364.1 1047.5,354.2 1051.5,348.6 1055.5,344.3 1059.5,340.2 1063.5,338.7 1067.5,340.6 1071.5,339.9 1075.5,338.8 1079.5,337.1 1083.5,333.1 1087.5,328.4 1091.5,326.7 1095.5,323.2 1099.5,320.8 1103.5,319.4 1107.5,319.3 1111.5,317.5 1115.5,317.0 1119.5,314.3 1123.5,313.0 1127.5,311.1" fill="none" stroke="#FFFF00" stroke-width="1"/>
<polyline points="3.5,216.6 7.5,219.8 11.5,226.4 15.5,232.1 19.5,236.8 23.5,240.8 27.5,243.9 31.5,247.7 35.5,252.4 39.5,257.2 43.5,265.6 47.5,272.4 51.5,277.2 55.5,282.6 59.5,283.5 63.5,284.8 67.5,282.3 71.5,283.2 75.5,286.4 79.5,289.4 83.5,294.3 87.5,296.9 91.5,300.4 95.5,303.3 99.5,300.5 103.5,299.5 107.5,303.9 111.5,307.7 115.5,310.0 119.5,316.2 123.5,317.7 127.5,317.3 131.5,319.2 135.5,321.3 139.5,318.2 143.5,322.0 147.5,326.3 151.5,332.6 155.5,343.0 159.5,352.5 163.5,354.5 167.5,357.7 171.5,362.4 175.5,363.1 179.5,372.8 183.5,380.7 187.5,388.4 191.5,389.9 195.5,396.3 199.5,398.1 203.5,400.9 207.5,398.7 211.5,393.0 215.5,385.7 219.5,382.0 223.5,376.8 227.5,369.9 231.5,363.1 235.5,353.2 239.5,344.0 243.5,332.0 247.5,326.7 251.5,322.4 255.5,315.8 259.5,308.0 263.5,303.7 267.5,300.7 271.5,299.7 275.5,298.1 279.5,295.4 283.5,292.5 287.5,289.1 291.5,286.1 295.5,283.9 299.5,277.0 303.5,268.7 307.5,257.8 311.5,251.6 315.5,244.8 319.5,238.2 323.5,232.4 327.5,228.9 331.5,227.6 335.5,227.0 339.5,228.5 343.5,230.1 347.5,230.0 351.5,229.3 355.5,231.5 359.5,237.1 363.5,242.8 367.5,246.6 371.5,250.1 375.5,250.3 379.5,250.5 383.5,244.6 387.5,240.1 391.5,235.7 395.5,229.3 399.5,224.6 403.5,222.4 407.5,220.5 411.5,219.0 415.5,215.7 419.5,214.8 423.5,214.7 427.5,219.8 431.5,227.5 435.5,233.3 439.5,243.7 443.5,253.0 447.5,261.1 451.5,270.6 455.5,278.4 459.5,283.0 463.5,288.1 467.5,290.3 471.5,293.1 475.5,295.3 479.5,294.6 483.5,289.2 487.5,284.2 491.5,281.4 495.5,277.9 499.5,271.6 503.5,266.8 507.5,262.1 511.5,257.5 515.5,252.7 519.5,245.2 523.5,238.1 527.5,227.5 531.5,217.1 535.5,207.5 539.5,195.0 543.5,182.4 547.5,169.6 551.5,157.6 555.5,147.2 559.5,136.9 563.5,126.6 567.5,117.3 571.5,107.7 575.5,101.5 579.5,97.9 583.5,96.6 587.5,93.2 591.5,90.2 595.5,93.2 599.5,98.1 603.5,104.0 607.5,112.4 611.5,118.9 615.5,126.0 619.5,131.6 623.5,135.5 627.5,140.8 631.5,146.5 635.5,149.9 639.5,155.2 643.5,165.6 647.5,177.2 651.5,185.4 655.5,190.7 659.5,192.7 663.5,190.8 667.5,192.1 671.5,196.8 675.5,203.2 679.5,214.8 683.5,226.2 687.5,235.0 691.5,247.1 695.5,260.7 699.5,268.6 703.5,276.1 707.5,282.1 711.5,287.8 715.5,296.1 719.5,301.8 723.5,306.7 727.5,307.9 731.5,307.1 735.5,307.0 739.5,314.0 743.5,324.6 747.5,334.4 751.5,343.4 755.5,352.8 759.5,360.0 763.5,369.7 767.5,381.7 771.5,390.2 775.5,397.4 779.5,405.7 783.5,413.7 787.5,423.5 791.5,424.0 795.5,417.7 799.5,406.9 803.5,395.7 807.5,385.9 811.5,376.2 815.5,372.1 819.5,367.5 823.5,361.8 827.5,356.6 831.5,356.9 835.5,358.5 839.5,360.5 843.5,361.5 847.5,367.2 851.5,370.9 855.5,377.0 859.5,378.6 863.5,374.8 867.5,373.1 871.5,368.4 875.5,364.9 879.5,359.0 883.5,358.0 887.5,360.9 891.5,360.9 895.5,368.3 899.5,372.8 903.5,377.6 907.5,384.6 911.5,392.2 915.5,404.2 919.5,419.6 923.5,430.3 927.5,441.5 931.5,449.8 935.5,459.6 939.5,466.1 943.5,466.6 947.5,469.6 951.5,462.3 955.5,457.5 959.5,457.9 963.5,458.5 967.5,454.2 971.5,448.3 975.5,440.6 979.5,434.5 983.5,423.9 987.5,415.9 991.5,408.3 995.5,403.7 999.5,404.0 1003.5,398.9 1007.5,395.4 1011.5,392.5 1015.5,381.4 1019.5,369.9 1023.5,360.9 1027.5,355.1 1031.5,349.3 1035.5,348.8 1039.5,347.4 1043.5,345.5 1047.5,341.5 1051.5,337.8 1055.5,331.3 1059.5,328.0 1063.5,327.0 1067.5,328.3 1071.5,329.0 1075.5,328.0 1079.5,329.9 1083.5,329.7 1087.5,325.6 1091.5,322.4 1095.5,320.0 1099.5,316.5 1103.5,317.7 1107.5,317.0 1111.5,315.0 1115.5,314.4 1119.5,312.2 1123.5,306.1 1127.5,302.3" fill="none" stroke="#FF0000" stroke-width="1"/>
<polyline points="3.5,205.0 7.5,213.1 11.5,229.4 15.5,244.5 19.5,260.4 23.5,276.1 27.5,288.2 31.5,290.3 35.5,291.6 39.5,285.0 43.5,286.7 47.5,284.4 51.5,278.4 55.5,277.1 59.5,276.6 63.5,277.9 67.5,279.6 71.5,279.7 75.5,288.3 79.5,300.4 83.5,311.5 87.5,317.2 91.5,322.9 95.5,327.1 99.5,321.2 103.5,310.8 107.5,307.3 111.5,303.9 115.5,302.7 119.5,309.6 123.5,308.3 127.5,313.4 131.5,327.7 135.5,335.3 139.5,332.5 143.5,341.2 147.5,342.9 151.5,356.8 155.5,372.5 159.5,377.2 163.5,373.7 167.5,382.8 171.5,383.5 175.5,383.3 179.5,388.7 183.5,388.9 187.5,399.6 191.5,406.2 195.5,409.7 199.5,412.7 203.5,418.6 207.5,408.7 211.5,397.1 215.5,371.8 219.5,357.8 223.5,343.8 227.5,327.1 231.5,307.5 235.5,297.7 239.5,290.8 243.5,292.2 247.5,295.6 251.5,300.9 255.5,304.5 259.5,308.4 263.5,309.6 267.5,310.5 271.5,307.2 275.5,300.5 279.5,290.0 283.5,280.5 287.5,269.8 291.5,262.6 295.5,257.3 299.5,246.9 303.5,236.9 307.5,225.6 311.5,222.6 315.5,219.7 319.5,213.8 323.5,207.5 327.5,210.9 331.5,218.4 335.5,228.3 339.5,234.3 343.5,240.5 347.5,246.2 351.5,251.2 355.5,252.1 359.5,255.7 363.5,257.3 367.5,259.0 371.5,259.7 375.5,254.3 379.5,249.8 383.5,237.1 387.5,224.5 391.5,214.1 395.5,199.7 399.5,189.4 403.5,190.5 407.5,191.1 411.5,200.9 415.5,206.8 419.5,215.5 423.5,229.7 427.5,250.1 431.5,264.4 435.5,275.5 439.5,286.4 443.5,299.2 447.5,306.6 451.5,311.5 455.5,306.8 459.5,301.6 463.5,300.7 467.5,294.1 471.5,287.0 475.5,284.0 479.5,277.6 483.5,271.6 487.5,266.7 491.5,262.1 495.5,261.7 499.5,256.3 503.5,249.6 507.5,246.6 511.5,243.3 515.5,238.7 519.5,228.2 523.5,214.6 527.5,198.8 531.5,184.7 535.5,168.5 539.5,146.6 543.5,126.1 547.5,111.0 551.5,100.7 555.5,95.6 559.5,89.1 563.5,84.6 567.5,88.0 571.5,89.3 575.5,92.1 579.5,95.1 583.5,97.6 587.5,97.4 591.5,95.9 595.5,98.5 599.5,106.9 603.5,115.9 607.5,129.7 611.5,140.2 615.5,154.6 619.5,167.4 623.5,172.4 627.5,174.6 631.5,177.0 635.5,170.2 639.5,170.1 643.5,176.5 647.5,187.1 651.5,198.4 655.5,206.8 659.5,208.3 663.5,211.5 667.5,214.1 671.5,217.0 675.5,219.3 679.5,231.1 683.5,245.5 687.5,261.7 691.5,282.7 695.5,307.3 699.5,320.3 703.5,332.9 707.5,333.1 711.5,330.0 715.5,330.5 719.5,321.0 723.5,306.0 727.5,295.5 731.5,281.3 735.5,280.9 739.5,298.0 743.5,318.7 747.5,347.8 751.5,380.8 755.5,410.1 759.5,438.7 763.5,458.4 767.5,465.3 771.5,461.7 775.5,446.9 779.5,430.6 783.5,417.2 787.5,408.4 791.5,389.7 795.5,370.1 799.5,352.0 803.5,344.5 807.5,341.1 811.5,335.2 815.5,335.8 819.5,345.2 823.5,353.6 827.5,361.2 831.5,369.3 835.5,375.9 839.5,385.8 843.5,387.3 847.5,389.2 851.5,388.2 855.5,392.7 859.5,387.8 863.5,373.7 867.5,360.3 871.5,349.6 875.5,340.6 879.5,329.9 883.5,323.3 887.5,334.0 891.5,348.1 895.5,376.4 899.5,396.0 903.5,414.5 907.5,439.2 911.5,461.0 915.5,474.4 919.5,491.2 923.5,484.2 927.5,487.1 931.5,485.1 935.5,479.9 939.5,471.1 943.5,458.9 947.5,448.0 951.5,440.5 955.5,428.0 959.5,430.6 963.5,437.1 967.5,437.4 971.5,437.7 975.5,433.2 979.5,428.6 983.5,419.9 987.5,401.3 991.5,379.5 995.5,370.1 999.5,370.3 1003.5,364.5 1007.5,362.2 1011.5,365.2 1015.5,361.5 1019.5,360.3 1023.5,351.7 1027.5,340.0 1031.5,334.0 1035.5,335.3 1039.5,329.6 1043.5,329.5 1047.5,322.7 1051.5,323.9 1055.5,322.6 1059.5,322.1 1063.5,318.6 1067.5,327.0 1071.5,328.6 1075.5,333.3 1079.5,335.9 1083.5,336.7 1087.5,329.2 1091.5,326.2 1095.5,313.1 1099.5,304.4 1103.5,302.1 1107.5,298.1 1111.5,293.2 1115.5,299.7 1119.5,298.2 1123.5,299.0 1127.5,300.2" fill="none" stroke="#0000CD" stroke-width="1"/>
<rect x="3" y="96" width="1415" height="3" fill="#FF0000"/>
<rect x="3" y="200" width="1415" height="3" fill="#FF0000"/>
<rect x="3" y="295" width="1415" height="3" fill="#00FF00"/>
<rect x="3" y="424" width="1415" height="3" fill="#0000FF"/>
<rect x="3" y="511" width="1415" height="3" fill="#0000FF"/>
<rect x="3" y="586" width="1" height="25" fill="#c0c0c0"/>
<rect x="7" y="591" width="1" height="20" fill="#c0c0c0"/>
<rect x="11" y="598" width="1" height="13" fill="#c0c0c0"/>
<rect x="15" y="602" width="1" height="9" fill="#c0c0c0"/>
<rect x="19" y="606" width="1" height="5" fill="#c0c0c0"/>
<rect x="23" y="609" width="1" height="2" fill="#c0c0c0"/>
<rect x="27" y="610" width="1" height="1" fill="#c0c0c0"/>
<rect x="31" y="610" width="1" height="2" fill="#c0c0c0"/>
<rect x="35" y="610" width="1" height="2" fill="#c0c0c0"/>
<rect x="39" y="610" width="1" height="1" fill="#c0c0c0"/>
<rect x="43" y="610" width="1" height="4" fill="#c0c0c0"/>
<rect x="47" y="610" width="1" height="5" fill="#c0c0c0"/>
<rect x="51" y="610" width="1" height="3" fill="#c0c0c0"/>
<rect x="55" y="610" width="1" height="3" fill="#c0c0c0"/>
<rect x="59" y="610" width="1" height="3" fill="#c0c0c0"/>
<rect x="63" y="610" width="1" height="3" fill="#c0c0c0"/>
<rect x="67" y="610" width="1" height="3" fill="#c0c0c0"/>
<rect x="71" y="610" width="1" height="5" fill="#c0c0c0"/>
<rect x="75" y="610" width="1" height="10" fill="#c0c0c0"/>
<rect x="79" y="610" width="1" height="12" fill="#c0c0c0"/>
<rect x="83" y="610" width="1" height="15" fill="#c0c0c0"/>
<rect x="87" y="610" width="1" height="14" fill="#c0c0c0"/>
<rect x="91" y="610" width="1" height="14" fill="#c0c0c0"/>
<rect x="95" y="610" width="1" height="13" fill="#c0c0c0"/>
<rect x="99" y="610" width="1" height="10" fill="#c0c0c0"/>
<rect x="103" y="610" width="1" height="7" fill="#c0c0c0"/>
<rect x="107" y="610" width="1" height="8" fill="#c0c0c0"/>
<rect x="111" y="610" width="1" height="9" fill="#c0c0c0"/>
<rect x="115" y="610" width="1" height="8" fill="#c0c0c0"/>
<rect x="119" y="610" width="1" height="12" fill="#c0c0c0"/>
<rect x="123" y="610" width="1" height="10" fill="#c0c0c0"/>
<rect x="127" y="610" width="1" height="9" fill="#c0c0c0"/>
<rect x="131" y="610" width="1" height="13" fill="#c0c0c0"/>
<rect x="135" y="610" width="1" height="15" fill="#c0c0c0"/>
<rect x="139" y="610" width="1" height="12" fill="#c0c0c0"/>
<rect x="143" y="610" width="1" height="14" fill="#c0c0c0"/>
<rect x="147" y="610" width="1" height="16" fill="#c0c0c0"/>
<rect x="151" y="610" width="1" height="19" fill="#c0c0c0"/>
<rect x="155" y="610" width="1" height="23" fill="#c0c0c0"/>
<rect x="159" y="610" width="1" height="24" fill="#c0c0c0"/>
<rect x="163" y="610" width="1" height="21" fill="#c0c0c0"/>
<rect x="167" y="610" width="1" height="20" fill="#c0c0c0"/>
<rect x="171" y="610" width="1" height="19" fill="#c0c0c0"/>
<rect x="175" y="610" width="1" height="19" fill="#c0c0c0"/>
<rect x="179" y="610" width="1" height="22" fill="#c0c0c0"/>
<rect x="183" y="610" width="1" height="23" fill="#c0c0c0"/>
<rect x="187" y="610" width="1" height="28" fill="#c0c0c0"/>
<rect x="191" y="610" width="1" height="26" fill="#c0c0c0"/>
<rect x="195" y="610" width="1" height="23" fill="#c0c0c0"/>
<rect x="199" y="610" width="1" height="21" fill="#c0c0c0"/>
<rect x="203" y="610" width="1" height="21" fill="#c0c0c0"/>
<rect x="207" y="610" width="1" height="18" fill="#c0c0c0"/>
<rect x="211" y="610" width="1" height="13" fill="#c0c0c0"/>
<rect x="215" y="610" width="1" height="6" fill="#c0c0c0"/>
<rect x="219" y="610" width="1" height="1" fill="#c0c0c0"/>
<rect x="223" y="605" width="1" height="6" fill="#c0c0c0"/>
<rect x="227" y="600" width="1" height="11" fill="#c0c0c0"/>
<rect x="231" y="597" width="1" height="14" fill="#c0c0c0"/>
<rect x="235" y="596" width="1" height="15" fill="#c0c0c0"/>
<rect x="239" y="595" width="1" height="16" fill="#c0c0c0"/>
<rect x="243" y="596" width="1" height="15" fill="#c0c0c0"/>
<rect x="247" y="597" width="1" height="14" fill="#c0c0c0"/>
<rect x="251" y="598" width="1" height="13" fill="#c0c0c0"/>
<rect x="255" y="598" width="1" height="13" fill="#c0c0c0"/>
<rect x="259" y="598" width="1" height="13" fill="#c0c0c0"/>
<rect x="263" y="598" width="1" height="13" fill="#c0c0c0"/>
<rect x="267" y="598" width="1" height="13" fill="#c0c0c0"/>
<rect x="271" y="598" width="1" height="13" fill="#c0c0c0"/>
<rect x="275" y="596" width="1" height="15" fill="#c0c0c0"/>
<rect x="279" y="594" width="1" height="17" fill="#c0c0c0"/>
<rect x="283" y="591" width="1" height="20" fill="#c0c0c0"/>
<rect x="287" y="589" width="1" height="22" fill="#c0c0c0"/>
<rect x="291" y="589" width="1" height="22" fill="#c0c0c0"/>
<rect x="295" y="589" width="1" height="22" fill="#c0c0c0"/>
<rect x="299" y="587" width="1" height="24" fill="#c0c0c0"/>
<rect x="303" y="585" width="1" height="26" fill="#c0c0c0"/>
<rect x="307" y="581" width="1" height="30" fill="#c0c0c0"/>
<rect x="311" y="582" width="1" height="29" fill="#c0c0c0"/>
<rect x="315" y="582" width="1" height="29" fill="#c0c0c0"/>
<rect x="319" y="583" width="1" height="28" fill="#c0c0c0"/>
<rect x="323" y="584" width="1" height="27" fill="#c0c0c0"/>
<rect x="327" y="587" width="1" height="24" fill="#c0c0c0"/>
<rect x="331" y="590" width="1" height="21" fill="#c0c0c0"/>
<rect x="335" y="592" width="1" height="19" fill="#c0c0c0"/>
<rect x="339" y="595" width="1" height="16" fill="#c0c0c0"/>
<rect x="343" y="597" width="1" height="14" fill="#c0c0c0"/>
<rect x="347" y="599" width="1" height="12" fill="#c0c0c0"/>
<rect x="351" y="600" width="1" height="11" fill="#c0c0c0"/>
<rect x="355" y="601" width="1" height="10" fill="#c0c0c0"/>
<rect x="359" y="604" width="1" height="7" fill="#c0c0c0"/>
<rect x="363" y="605" width="1" height="6" fill="#c0c0c0"/>
<rect x="367" y="606" width="1" height="5" fill="#c0c0c0"/>
<rect x="371" y="607" width="1" height="4" fill="#c0c0c0"/>
<rect x="375" y="605" width="1" height="6" fill="#c0c0c0"/>
<rect x="379" y="603" width="1" height="8" fill="#c0c0c0"/>
<rect x="383" y="598" width="1" height="13" fill="#c0c0c0"/>
<rect x="387" y="596" width="1" height="15" fill="#c0c0c0"/>
<rect x="391" y="594" width="1" height="17" fill="#c0c0c0"/>
<rect x="395" y="592" width="1" height="19" fill="#c0c0c0"/>
<rect x="399" y="592" width="1" height="19" fill="#c0c0c0"/>
<rect x="403" y="594" width="1" height="17" fill="#c0c0c0"/>
<rect x="407" y="596" width="1" height="15" fill="#c0c0c0"/>
<rect x="411" y="599" width="1" height="12" fill="#c0c0c0"/>
<rect x="415" y="601" width="1" height="10" fill="#c0c0c0"/>
<rect x="419" y="603" width="1" height="8" fill="#c0c0c0"/>
<rect x="423" y="607" width="1" height="4" fill="#c0c0c0"/>
<rect x="427" y="610" width="1" height="5" fill="#c0c0c0"/>
<rect x="431" y="610" width="1" height="10" fill="#c0c0c0"/>
<rect x="435" y="610" width="1" height="12" fill="#c0c0c0"/>
<rect x="439" y="610" width="1" height="14" fill="#c0c0c0"/>
<rect x="443" y="610" width="1" height="17" fill="#c0c0c0"/>
<rect x="447" y="610" width="1" height="17" fill="#c0c0c0"/>
<rect x="451" y="610" width="1" height="17" fill="#c0c0c0"/>
<rect x="455" y="610" width="1" height="17" fill="#c0c0c0"/>
<rect x="459" y="610" width="1" height="16" fill="#c0c0c0"/>
<rect x="463" y="610" width="1" height="15" fill="#c0c0c0"/>
<rect x="467" y="610" width="1" height="12" fill="#c0c0c0"/>
<rect x="471" y="610" width="1" height="11" fill="#c0c0c0"/>
<rect x="475" y="610" width="1" height="10" fill="#c0c0c0"/>
<rect x="479" y="610" width="1" height="7" fill="#c0c0c0"/>
<rect x="483" y="610" width="1" height="5" fill="#c0c0c0"/>
<rect x="487" y="610" width="1" height="4" fill="#c0c0c0"/>
<rect x="491" y="610" width="1" height="3" fill="#c0c0c0"/>
<rect x="495" y="610" width="1" height="2" fill="#c0c0c0"/>
<rect x="499" y="609" width="1" height="2" fill="#c0c0c0"/>
<rect x="503" y="607" width="1" height="4" fill="#c0c0c0"/>
<rect x="507" y="605" width="1" height="6" fill="#c0c0c0"/>
<rect x="511" y="604" width="1" height="7" fill="#c0c0c0"/>
<rect x="515" y="603" width="1" height="8" fill="#c0c0c0"/>
<rect x="519" y="599" width="1" height="12" fill="#c0c0c0"/>
<rect x="523" y="595" width="1" height="16" fill="#c0c0c0"/>
<rect x="527" y="589" width="1" height="22" fill="#c0c0c0"/>
<rect x="531" y="586" width="1" height="25" fill="#c0c0c0"/>
<rect x="535" y="582" width="1" height="29" fill="#c0c0c0"/>
<rect x="539" y="577" width="1" height="34" fill="#c0c0c0"/>
<rect x="543" y="573" width="1" height="38" fill="#c0c0c0"/>
<rect x="547" y="571" width="1" height="40" fill="#c0c0c0"/>
<rect x="551" y="571" width="1" height="40" fill="#c0c0c0"/>
<rect x="555" y="570" width="1" height="41" fill="#c0c0c0"/>
<rect x="559" y="570" width="1" height="41" fill="#c0c0c0"/>
<rect x="563" y="571" width="1" height="40" fill="#c0c0c0"/>
<rect x="567" y="573" width="1" height="38" fill="#c0c0c0"/>
<rect x="571" y="574" width="1" height="37" fill="#c0c0c0"/>
<rect x="575" y="576" width="1" height="35" fill="#c0c0c0"/>
<rect x="579" y="579" width="1" height="32" fill="#c0c0c0"/>
<rect x="583" y="581" width="1" height="30" fill="#c0c0c0"/>
<rect x="587" y="581" width="1" height="30" fill="#c0c0c0"/>
<rect x="591" y="582" width="1" height="29" fill="#c0c0c0"/>
<rect x="595" y="585" width="1" height="26" fill="#c0c0c0"/>
<rect x="599" y="590" width="1" height="21" fill="#c0c0c0"/>
<rect x="603" y="595" width="1" height="16" fill="#c0c0c0"/>
<rect x="607" y="602" width="1" height="9" fill="#c0c0c0"/>
<rect x="611" y="606" width="1" height="5" fill="#c0c0c0"/>
<rect x="615" y="609" width="1" height="2" fill="#c0c0c0"/>
<rect x="619" y="610" width="1" height="1" fill="#c0c0c0"/>
<rect x="623" y="610" width="1" height="2" fill="#c0c0c0"/>
<rect x="627" y="610" width="1" height="3" fill="#c0c0c0"/>
<rect x="631" y="610" width="1" height="4" fill="#c0c0c0"/>
<rect x="635" y="610" width="1" height="4" fill="#c0c0c0"/>
<rect x="639" y="610" width="1" height="5" fill="#c0c0c0"/>
<rect x="643" y="610" width="1" height="10" fill="#c0c0c0"/>
<rect x="647" y="610" width="1" height="14" fill="#c0c0c0"/>
<rect x="651" y="610" width="1" height="17" fill="#c0c0c0"/>
<rect x="655" y="610" width="1" height="17" fill="#c0c0c0"/>
<rect x="659" y="610" width="1" height="16" fill="#c0c0c0"/>
<rect x="663" y="610" width="1" height="14" fill="#c0c0c0"/>
<rect x="667" y="610" width="1" height="13" fill="#c0c0c0"/>
<rect x="671" y="610" width="1" height="16" fill="#c0c0c0"/>
<rect x="675" y="610" width="1" height="19" fill="#c0c0c0"/>
<rect x="679" y="610" width="1" height="25" fill="#c0c0c0"/>
<rect x="683" y="610" width="1" height="29" fill="#c0c0c0"/>
<rect x="687" y="610" width="1" height="31" fill="#c0c0c0"/>
<rect x="691" y="610" width="1" height="34" fill="#c0c0c0"/>
<rect x="695" y="610" width="1" height="39" fill="#c0c0c0"/>
<rect x="699" y="610" width="1" height="40" fill="#c0c0c0"/>
<rect x="703" y="610" width="1" height="41" fill="#c0c0c0"/>
<rect x="707" y="610" width="1" height="40" fill="#c0c0c0"/>
<rect x="711" y="610" width="1" height="37" fill="#c0c0c0"/>
<rect x="715" y="610" width="1" height="35" fill="#c0c0c0"/>
<rect x="719" y="610" width="1" height="30" fill="#c0c0c0"/>
<rect x="723" y="610" width="1" height="25" fill="#c0c0c0"/>
<rect x="727" y="610" width="1" height="22" fill="#c0c0c0"/>
<rect x="731" y="610" width="1" height="18" fill="#c0c0c0"/>
<rect x="735" y="610" width="1" height="19" fill="#c0c0c0"/>
<rect x="739" y="610" width="1" height="26" fill="#c0c0c0"/>
<rect x="743" y="610" width="1" height="34" fill="#c0c0c0"/>
<rect x="747" y="610" width="1" height="41" fill="#c0c0c0"/>
<rect x="751" y="610" width="1" height="48" fill="#c0c0c0"/>
<rect x="755" y="610" width="1" height="51" fill="#c0c0c0"/>
<rect x="759" y="610" width="1" height="51" fill="#c0c0c0"/>
<rect x="763" y="610" width="1" height="51" fill="#c0c0c0"/>
<rect x="767" y="610" width="1" height="52" fill="#c0c0c0"/>
<rect x="771" y="610" width="1" height="49" fill="#c0c0c0"/>
<rect x="775" y="610" width="1" height="42" fill="#c0c0c0"/>
<rect x="779" y="610" width="1" height="37" fill="#c0c0c0"/>
<rect x="783" y="610" width="1" height="32" fill="#c0c0c0"/>
<rect x="787" y="610" width="1" height="29" fill="#c0c0c0"/>
<rect x="791" y="610" width="1" height="22" fill="#c0c0c0"/>
<rect x="795" y="610" width="1" height="16" fill="#c0c0c0"/>
<rect x="799" y="610" width="1" height="10" fill="#c0c0c0"/>
<rect x="803" y="610" width="1" height="6" fill="#c0c0c0"/>
<rect x="807" y="610" width="1" height="5" fill="#c0c0c0"/>
<rect x="811" y="610" width="1" height="4" fill="#c0c0c0"/>
<rect x="815" y="610" width="1" height="6" fill="#c0c0c0"/>
<rect x="819" y="610" width="1" height="8" fill="#c0c0c0"/>
<rect x="823" y="610" width="1" height="9" fill="#c0c0c0"/>
<rect x="827" y="610" width="1" height="7" fill="#c0c0c0"/>
<rect x="831" y="610" width="1" height="7" fill="#c0c0c0"/>
<rect x="835" y="610" width="1" height="9" fill="#c0c0c0"/>
<rect x="839" y="610" width="1" height="10" fill="#c0c0c0"/>
<rect x="843" y="610" width="1" height="11" fill="#c0c0c0"/>
<rect x="847" y="610" width="1" height="12" fill="#c0c0c0"/>
<rect x="851" y="610" width="1" height="11" fill="#c0c0c0"/>
<rect x="855" y="610" width="1" height="11" fill="#c0c0c0"/>
<rect x="859" y="610" width="1" height="6" fill="#c0c0c0"/>
<rect x="863" y="610" width="1" height="1" fill="#c0c0c0"/>
<rect x="867" y="607" width="1" height="4" fill="#c0c0c0"/>
<rect x="871" y="605" width="1" height="6" fill="#c0c0c0"/>
<rect x="875" y="604" width="1" height="7" fill="#c0c0c0"/>
<rect x="879" y="602" width="1" height="9" fill="#c0c0c0"/>
<rect x="883" y="602" width="1" height="9" fill="#c0c0c0"/>
<rect x="887" y="607" width="1" height="4" fill="#c0c0c0"/>
<rect x="891" y="610" width="1" height="2" fill="#c0c0c0"/>
<rect x="895" y="610" width="1" height="12" fill="#c0c0c0"/>
<rect x="899" y="610" width="1" height="16" fill="#c0c0c0"/>
<rect x="903" y="610" width="1" height="20" fill="#c0c0c0"/>
<rect x="907" y="610" width="1" height="23" fill="#c0c0c0"/>
<rect x="911" y="610" width="1" height="27" fill="#c0c0c0"/>
<rect x="915" y="610" width="1" height="30" fill="#c0c0c0"/>
<rect x="919" y="610" width="1" height="33" fill="#c0c0c0"/>
<rect x="923" y="610" width="1" height="31" fill="#c0c0c0"/>
<rect x="927" y="610" width="1" height="31" fill="#c0c0c0"/>
<rect x="931" y="610" width="1" height="28" fill="#c0c0c0"/>
<rect x="935" y="610" width="1" height="25" fill="#c0c0c0"/>
<rect x="939" y="610" width="1" height="22" fill="#c0c0c0"/>
<rect x="943" y="610" width="1" height="18" fill="#c0c0c0"/>
<rect x="947" y="610" width="1" height="16" fill="#c0c0c0"/>
<rect x="951" y="610" width="1" height="13" fill="#c0c0c0"/>
<rect x="955" y="610" width="1" height="9" fill="#c0c0c0"/>
<rect x="959" y="610" width="1" height="11" fill="#c0c0c0"/>
<rect x="963" y="610" width="1" height="14" fill="#c0c0c0"/>
<rect x="967" y="610" width="1" height="12" fill="#c0c0c0"/>
<rect x="971" y="610" width="1" height="9" fill="#c0c0c0"/>
<rect x="975" y="610" width="1" height="7" fill="#c0c0c0"/>
<rect x="979" y="610" width="1" height="2" fill="#c0c0c0"/>
<rect x="983" y="605" width="1" height="6" fill="#c0c0c0"/>
<rect x="987" y="601" width="1" height="10" fill="#c0c0c0"/>
<rect x="991" y="597" width="1" height="14" fill="#c0c0c0"/>
<rect x="995" y="596" width="1" height="15" fill="#c0c0c0"/>
<rect x="999" y="599" width="1" height="12" fill="#c0c0c0"/>
<rect x="1003" y="599" width="1" height="12" fill="#c0c0c0"/>
<rect x="1007" y="597" width="1" height="14" fill="#c0c0c0"/>
<rect x="1011" y="596" width="1" height="15" fill="#c0c0c0"/>
<rect x="1015" y="593" width="1" height="18" fill="#c0c0c0"/>
<rect x="1019" y="592" width="1" height="19" fill="#c0c0c0"/>
<rect x="1023" y="589" width="1" height="22" fill="#c0c0c0"/>
<rect x="1027" y="589" width="1" height="22" fill="#c0c0c0"/>
<rect x="1031" y="589" width="1" height="22" fill="#c0c0c0"/>
<rect x="1035" y="592" width="1" height="19" fill="#c0c0c0"/>
<rect x="1039" y="591" width="1" height="20" fill="#c0c0c0"/>
<rect x="1043" y="591" width="1" height="20" fill="#c0c0c0"/>
<rect x="1047" y="588" width="1" height="23" fill="#c0c0c0"/>
<rect x="1051" y="588" width="1" height="23" fill="#c0c0c0"/>
<rect x="1055" y="590" width="1" height="21" fill="#c0c0c0"/>
<rect x="1059" y="591" width="1" height="20" fill="#c0c0c0"/>
<rect x="1063" y="594" width="1" height="17" fill="#c0c0c0"/>
<rect x="1067" y="598" width="1" height="13" fill="#c0c0c0"/>
<rect x="1071" y="598" width="1" height="13" fill="#c0c0c0"/>
<rect x="1075" y="597" width="1" height="14" fill="#c0c0c0"/>
<rect x="1079" y="598" width="1" height="13" fill="#c0c0c0"/>
<rect x="1083" y="599" width="1" height="12" fill="#c0c0c0"/>
<rect x="1087" y="596" width="1" height="15" fill="#c0c0c0"/>
<rect x="1091" y="597" width="1" height="14" fill="#c0c0c0"/>
<rect x="1095" y="595" width="1" height="16" fill="#c0c0c0"/>
<rect x="1099" y="593" width="1" height="18" fill="#c0c0c0"/>
<rect x="1103" y="593" width="1" height="18" fill="#c0c0c0"/>
<rect x="1107" y="594" width="1" height="17" fill="#c0c0c0"/>
<rect x="1111" y="595" width="1" height="16" fill="#c0c0c0"/>
<rect x="1115" y="597" width="1" height="14" fill="#c0c0c0"/>
<rect x="1119" y="598" width="1" height="13" fill="#c0c0c0"/>
<rect x="1123" y="598" width="1" height="13" fill="#c0c0c0"/>
<rect x="1127" y="597" width="1" height="14" fill="#c0c0c0"/>
<path d="M3 579h1v1h-1zM4 579h1v1h-1zM5 579h1v1h-1zM9 581h1v1h-1zM10 582h1v1h-1zM11 582h1v1h-1zM15 585h1v1h-1zM16 586h1v1h-1zM17 586h1v1h-1zM21 590h1v1h-1zM22 591h1v1h-1zM23 591h1v1h-1zM27 595h1v1h-1zM28 596h1v1h-1zM29 597h1v1h-1zM33 600h1v1h-1zM34 601h1v1h-1zM35 602h1v1h-1zM39 605h1v1h-1zM40 606h1v1h-1zM41 606h1v1h-1zM45 608h1v1h-1zM46 609h1v1h-1zM47 609h1v1h-1zM51 610h1v1h-1zM52 611h1v1h-1zM53 611h1v1h-1zM57 611h1v1h-1zM58 611h1v1h-1zM59 611h1v1h-1zM63 611h1v1h-1zM64 611h1v1h-1zM65 611h1v1h-1zM69 612h1v1h-1zM70 612h1v1h-1zM71 612h1v1h-1zM75 613h1v1h-1zM76 613h1v1h-1zM77 613h1v1h-1zM81 614h1v1h-1zM82 615h1v1h-1zM83 615h1v1h-1zM87 616h1v1h-1zM88 616h1v1h-1zM89 617h1v1h-1zM93 618h1v1h-1zM94 618h1v1h-1zM95 618h1v1h-1zM99 619h1v1h-1zM100 619h1v1h-1zM101 619h1v1h-1zM105 620h1v1h-1zM106 620h1v1h-1zM107 620h1v1h-1zM111 620h1v1h-1zM112 620h1v1h-1zM113 620h1v1h-1zM117 619h1v1h-1zM118 619h1v1h-1zM119 619h1v1h-1zM123 619h1v1h-1zM124 618h1v1h-1zM125 618h1v1h-1zM129 618h1v1h-1zM130 618h1v1h-1zM131 618h1v1h-1zM135 619h1v1h-1zM136 619h1v1h-1zM137 619h1v1h-1zM141 620h1v1h-1zM142 620h1v1h-1zM143 620h1v1h-1zM147 621h1v1h-1zM148 621h1v1h-1zM149 621h1v1h-1zM153 623h1v1h-1zM154 623h1v1h-1zM155 623h1v1h-1zM159 625h1v1h-1zM160 625h1v1h-1zM161 625h1v1h-1zM165 627h1v1h-1zM166 627h1v1h-1zM167 627h1v1h-1zM171 627h1v1h-1zM172 628h1v1h-1zM173 628h1v1h-1zM177 629h1v1h-1zM178 629h1v1h-1zM179 629h1v1h-1zM183 630h1v1h-1zM184 630h1v1h-1zM185 630h1v1h-1zM189 631h1v1h-1zM190 631h1v1h-1zM191 631h1v1h-1zM195 631h1v1h-1zM196 631h1v1h-1zM197 631h1v1h-1zM201 631h1v1h-1zM202 631h1v1h-1zM203 631h1v1h-1zM207 631h1v1h-1zM208 631h1v1h-1zM209 631h1v1h-1zM213 629h1v1h-1zM214 629h1v1h-1zM215 629h1v1h-1zM219 626h1v1h-1zM220 625h1v1h-1zM221 624h1v1h-1zM225 621h1v1h-1zM226 620h1v1h-1zM227 619h1v1h-1zM231 615h1v1h-1zM232 614h1v1h-1zM233 613h1v1h-1zM237 609h1v1h-1zM238 608h1v1h-1zM239 607h1v1h-1zM243 604h1v1h-1zM244 603h1v1h-1zM245 602h1v1h-1zM249 600h1v1h-1zM250 599h1v1h-1zM251 599h1v1h-1zM255 598h1v1h-1zM256 597h1v1h-1zM257 597h1v1h-1zM261 597h1v1h-1zM262 597h1v1h-1zM263 597h1v1h-1zM267 597h1v1h-1zM268 597h1v1h-1zM269 597h1v1h-1zM273 597h1v1h-1zM274 597h1v1h-1zM275 597h1v1h-1zM279 597h1v1h-1zM280 597h1v1h-1zM281 596h1v1h-1zM285 596h1v1h-1zM286 595h1v1h-1zM287 595h1v1h-1zM291 594h1v1h-1zM292 594h1v1h-1zM293 594h1v1h-1zM297 592h1v1h-1zM298 592h1v1h-1zM299 592h1v1h-1zM303 590h1v1h-1zM304 590h1v1h-1zM305 590h1v1h-1zM309 588h1v1h-1zM310 587h1v1h-1zM311 587h1v1h-1zM315 586h1v1h-1zM316 585h1v1h-1zM317 585h1v1h-1zM321 585h1v1h-1zM322 584h1v1h-1zM323 584h1v1h-1zM327 584h1v1h-1zM328 584h1v1h-1zM329 584h1v1h-1zM333 584h1v1h-1zM334 584h1v1h-1zM335 585h1v1h-1zM339 586h1v1h-1zM340 586h1v1h-1zM341 587h1v1h-1zM345 588h1v1h-1zM346 589h1v1h-1zM347 589h1v1h-1zM351 591h1v1h-1zM352 592h1v1h-1zM353 592h1v1h-1zM357 595h1v1h-1zM358 595h1v1h-1zM359 596h1v1h-1zM363 598h1v1h-1zM364 598h1v1h-1zM365 599h1v1h-1zM369 600h1v1h-1zM370 601h1v1h-1zM371 601h1v1h-1zM375 602h1v1h-1zM376 602h1v1h-1zM377 603h1v1h-1zM381 603h1v1h-1zM382 603h1v1h-1zM383 603h1v1h-1zM387 602h1v1h-1zM388 602h1v1h-1zM389 602h1v1h-1zM393 601h1v1h-1zM394 601h1v1h-1zM395 600h1v1h-1zM399 599h1v1h-1zM400 599h1v1h-1zM401 598h1v1h-1zM405 597h1v1h-1zM406 597h1v1h-1zM407 596h1v1h-1zM411 596h1v1h-1zM412 596h1v1h-1zM413 596h1v1h-1zM417 596h1v1h-1zM418 596h1v1h-1zM419 596h1v1h-1zM423 597h1v1h-1zM424 598h1v1h-1zM425 598h1v1h-1zM429 601h1v1h-1zM430 602h1v1h-1zM431 602h1v1h-1zM435 606h1v1h-1zM436 606h1v1h-1zM437 607h1v1h-1zM441 610h1v1h-1zM442 611h1v1h-1zM443 612h1v1h-1zM447 615h1v1h-1zM448 616h1v1h-1zM449 616h1v1h-1zM453 619h1v1h-1zM454 620h1v1h-1zM455 620h1v1h-1zM459 622h1v1h-1zM460 623h1v1h-1zM461 623h1v1h-1zM465 624h1v1h-1zM466 624h1v1h-1zM467 624h1v1h-1zM471 624h1v1h-1zM472 623h1v1h-1zM473 623h1v1h-1zM477 623h1v1h-1zM478 622h1v1h-1zM479 622h1v1h-1zM483 621h1v1h-1zM484 620h1v1h-1zM485 620h1v1h-1zM489 619h1v1h-1zM490 618h1v1h-1zM491 618h1v1h-1zM495 616h1v1h-1zM496 616h1v1h-1zM497 615h1v1h-1zM501 614h1v1h-1zM502 613h1v1h-1zM503 613h1v1h-1zM507 611h1v1h-1zM508 611h1v1h-1zM509 611h1v1h-1zM513 609h1v1h-1zM514 609h1v1h-1zM515 608h1v1h-1zM519 607h1v1h-1zM520 606h1v1h-1zM521 606h1v1h-1zM525 603h1v1h-1zM526 603h1v1h-1zM527 602h1v1h-1zM531 599h1v1h-1zM532 599h1v1h-1zM533 598h1v1h-1zM537 595h1v1h-1zM538 594h1v1h-1zM539 593h1v1h-1zM543 590h1v1h-1zM544 589h1v1h-1zM545 588h1v1h-1zM549 584h1v1h-1zM550 583h1v1h-1zM551 582h1v1h-1zM555 579h1v1h-1zM556 578h1v1h-1zM557 578h1v1h-1zM561 575h1v1h-1zM562 575h1v1h-1zM563 574h1v1h-1zM567 573h1v1h-1zM568 573h1v1h-1zM569 572h1v1h-1zM573 572h1v1h-1zM574 572h1v1h-1zM575 572h1v1h-1zM579 572h1v1h-1zM580 573h1v1h-1zM581 573h1v1h-1zM585 574h1v1h-1zM586 574h1v1h-1zM587 575h1v1h-1zM591 576h1v1h-1zM592 576h1v1h-1zM593 577h1v1h-1zM597 579h1v1h-1zM598 579h1v1h-1zM599 580h1v1h-1zM603 582h1v1h-1zM604 583h1v1h-1zM605 584h1v1h-1zM609 587h1v1h-1zM610 588h1v1h-1zM611 588h1v1h-1zM615 592h1v1h-1zM616 593h1v1h-1zM617 593h1v1h-1zM621 597h1v1h-1zM622 598h1v1h-1zM623 598h1v1h-1zM627 602h1v1h-1zM628 603h1v1h-1zM629 603h1v1h-1zM633 606h1v1h-1zM634 607h1v1h-1zM635 607h1v1h-1zM639 610h1v1h-1zM640 610h1v1h-1zM641 611h1v1h-1zM645 613h1v1h-1zM646 613h1v1h-1zM647 613h1v1h-1zM651 615h1v1h-1zM652 616h1v1h-1zM653 616h1v1h-1zM657 618h1v1h-1zM658 618h1v1h-1zM659 619h1v1h-1zM663 620h1v1h-1zM664 620h1v1h-1zM665 620h1v1h-1zM669 622h1v1h-1zM670 622h1v1h-1zM671 622h1v1h-1zM675 624h1v1h-1zM676 624h1v1h-1zM677 625h1v1h-1zM681 626h1v1h-1zM682 627h1v1h-1zM683 627h1v1h-1zM687 629h1v1h-1zM688 629h1v1h-1zM689 630h1v1h-1zM693 632h1v1h-1zM694 633h1v1h-1zM695 633h1v1h-1zM699 636h1v1h-1zM700 637h1v1h-1zM701 638h1v1h-1zM705 641h1v1h-1zM706 641h1v1h-1zM707 642h1v1h-1zM711 644h1v1h-1zM712 644h1v1h-1zM713 644h1v1h-1zM717 645h1v1h-1zM718 645h1v1h-1zM719 645h1v1h-1zM723 644h1v1h-1zM724 644h1v1h-1zM725 644h1v1h-1zM729 642h1v1h-1zM730 641h1v1h-1zM731 640h1v1h-1zM735 638h1v1h-1zM736 638h1v1h-1zM737 637h1v1h-1zM741 636h1v1h-1zM742 636h1v1h-1zM743 636h1v1h-1zM747 636h1v1h-1zM748 637h1v1h-1zM749 637h1v1h-1zM753 639h1v1h-1zM754 640h1v1h-1zM755 640h1v1h-1zM759 643h1v1h-1zM760 644h1v1h-1zM761 645h1v1h-1zM765 648h1v1h-1zM766 649h1v1h-1zM767 650h1v1h-1zM771 653h1v1h-1zM772 654h1v1h-1zM773 654h1v1h-1zM777 655h1v1h-1zM778 655h1v1h-1zM779 655h1v1h-1zM783 654h1v1h-1zM784 654h1v1h-1zM785 653h1v1h-1zM789 651h1v1h-1zM790 650h1v1h-1zM791 649h1v1h-1zM795 645h1v1h-1zM796 644h1v1h-1zM797 643h1v1h-1zM801 638h1v1h-1zM802 637h1v1h-1zM803 636h1v1h-1zM807 631h1v1h-1zM808 630h1v1h-1zM809 629h1v1h-1zM813 625h1v1h-1zM814 624h1v1h-1zM815 623h1v1h-1zM819 620h1v1h-1zM820 620h1v1h-1zM821 619h1v1h-1zM825 617h1v1h-1zM826 617h1v1h-1zM827 616h1v1h-1zM831 615h1v1h-1zM832 615h1v1h-1zM833 615h1v1h-1zM837 616h1v1h-1zM838 616h1v1h-1zM839 616h1v1h-1zM843 616h1v1h-1zM844 617h1v1h-1zM845 617h1v1h-1zM849 618h1v1h-1zM850 618h1v1h-1zM851 618h1v1h-1zM855 618h1v1h-1zM856 618h1v1h-1zM857 618h1v1h-1zM861 618h1v1h-1zM862 618h1v1h-1zM863 617h1v1h-1zM867 616h1v1h-1zM868 616h1v1h-1zM869 616h1v1h-1zM873 614h1v1h-1zM874 614h1v1h-1zM875 613h1v1h-1zM879 611h1v1h-1zM880 611h1v1h-1zM881 610h1v1h-1zM885 608h1v1h-1zM886 608h1v1h-1zM887 608h1v1h-1zM891 607h1v1h-1zM892 607h1v1h-1zM893 607h1v1h-1zM897 608h1v1h-1zM898 608h1v1h-1zM899 609h1v1h-1zM903 611h1v1h-1zM904 612h1v1h-1zM905 613h1v1h-1zM909 616h1v1h-1zM910 617h1v1h-1zM911 618h1v1h-1zM915 622h1v1h-1zM916 623h1v1h-1zM917 624h1v1h-1zM921 628h1v1h-1zM922 629h1v1h-1zM923 630h1v1h-1zM927 633h1v1h-1zM928 634h1v1h-1zM929 634h1v1h-1zM933 636h1v1h-1zM934 636h1v1h-1zM935 636h1v1h-1zM939 636h1v1h-1zM940 636h1v1h-1zM941 636h1v1h-1zM945 635h1v1h-1zM946 635h1v1h-1zM947 635h1v1h-1zM951 633h1v1h-1zM952 632h1v1h-1zM953 631h1v1h-1zM957 629h1v1h-1zM958 628h1v1h-1zM959 628h1v1h-1zM963 626h1v1h-1zM964 626h1v1h-1zM965 625h1v1h-1zM969 623h1v1h-1zM970 623h1v1h-1zM971 622h1v1h-1zM975 621h1v1h-1zM976 620h1v1h-1zM977 620h1v1h-1zM981 618h1v1h-1zM982 617h1v1h-1zM983 617h1v1h-1zM987 614h1v1h-1zM988 614h1v1h-1zM989 613h1v1h-1zM993 611h1v1h-1zM994 610h1v1h-1zM995 609h1v1h-1zM999 607h1v1h-1zM1000 606h1v1h-1zM1001 605h1v1h-1zM1005 603h1v1h-1zM1006 602h1v1h-1zM1007 602h1v1h-1zM1011 600h1v1h-1zM1012 599h1v1h-1zM1013 599h1v1h-1zM1017 597h1v1h-1zM1018 597h1v1h-1zM1019 596h1v1h-1zM1023 595h1v1h-1zM1024 595h1v1h-1zM1025 595h1v1h-1zM1029 594h1v1h-1zM1030 594h1v1h-1zM1031 593h1v1h-1zM1035 593h1v1h-1zM1036 592h1v1h-1zM1037 592h1v1h-1zM1041 591h1v1h-1zM1042 591h1v1h-1zM1043 591h1v1h-1zM1047 590h1v1h-1zM1048 590h1v1h-1zM1049 590h1v1h-1zM1053 589h1v1h-1zM1054 589h1v1h-1zM1055 589h1v1h-1zM1059 590h1v1h-1zM1060 590h1v1h-1zM1061 590h1v1h-1zM1065 590h1v1h-1zM1066 591h1v1h-1zM1067 591h1v1h-1zM1071 592h1v1h-1zM1072 592h1v1h-1zM1073 592h1v1h-1zM1077 593h1v1h-1zM1078 593h1v1h-1zM1079 593h1v1h-1zM1083 594h1v1h-1zM1084 595h1v1h-1zM1085 595h1v1h-1zM1089 596h1v1h-1zM1090 596h1v1h-1zM1091 596h1v1h-1zM1095 596h1v1h-1zM1096 596h1v1h-1zM1097 596h1v1h-1zM1101 596h1v1h-1zM1102 596h1v1h-1zM1103 596h1v1h-1zM1107 595h1v1h-1zM1108 595h1v1h-1zM1109 595h1v1h-1zM1113 595h1v1h-1zM1114 595h1v1h-1zM1115 595h1v1h-1zM1119 595h1v1h-1zM1120 595h1v1h-1zM1121 595h1v1h-1zM1125 595h1v1h-1zM1126 595h1v1h-1zM1127 595h1v1h-1z" fill="#FF0000"/>
<path d="M4 759.5 H1418" stroke="#c0c0c0" stroke-width="1" stroke-dasharray="3 3" fill="none"/>
<path d="M4 708.5 H1418" stroke="#c0c0c0" stroke-width="1" stroke-dasharray="3 3" fill="none"/>
<polyline points="3.5,735.1 7.5,734.7 11.5,748.3 15.5,744.2 19.5,744.9 23.5,743.5 27.5,735.7 31.5,735.7 35.5,733.3 39.5,732.7 43.5,746.0 47.5,737.9 51.5,729.1 55.5,732.1 59.5,733.8 63.5,735.3 67.5,735.5 71.5,745.2 75.5,752.9 79.5,750.7 83.5,751.2 87.5,740.0 91.5,741.4 95.5,738.0 99.5,727.4 103.5,728.4 107.5,740.4 111.5,740.9 115.5,736.3 119.5,749.8 123.5,733.1 127.5,735.0 131.5,746.8 135.5,745.9 139.5,731.7 143.5,742.0 147.5,743.6 151.5,746.2 155.5,749.1 159.5,746.9 163.5,735.0 167.5,738.0 171.5,739.0 175.5,739.8 179.5,748.6 183.5,745.5 187.5,753.5 191.5,737.3 195.5,736.9 199.5,737.3 203.5,741.0 207.5,732.2 211.5,728.4 215.5,723.8 219.5,722.3 223.5,722.0 227.5,719.6 231.5,720.7 235.5,724.3 239.5,723.4 243.5,729.0 247.5,729.7 251.5,732.3 255.5,726.1 259.5,728.1 263.5,727.4 267.5,725.7 271.5,724.6 275.5,720.0 279.5,716.8 283.5,712.6 287.5,712.5 291.5,720.1 295.5,722.0 299.5,713.5 303.5,710.4 307.5,706.5 311.5,718.4 315.5,718.4 319.5,718.4 323.5,719.3 327.5,728.6 331.5,731.8 335.5,729.6 339.5,732.3 343.5,732.7 347.5,731.8 351.5,730.8 355.5,730.4 359.5,741.4 363.5,733.1 367.5,736.2 371.5,734.3 375.5,720.4 379.5,721.9 383.5,709.4 387.5,719.9 391.5,718.5 395.5,714.8 399.5,722.4 403.5,731.8 407.5,731.8 411.5,733.6 415.5,734.4 419.5,738.1 423.5,743.2 427.5,756.2 431.5,753.6 435.5,746.5 439.5,747.5 443.5,750.6 447.5,743.2 451.5,743.5 455.5,743.1 459.5,739.5 463.5,741.4 467.5,730.7 471.5,734.1 475.5,735.8 479.5,729.0 483.5,729.6 487.5,728.7 491.5,731.6 495.5,730.3 499.5,722.8 503.5,721.6 507.5,723.2 511.5,723.2 515.5,719.0 519.5,710.2 523.5,704.7 527.5,698.6 531.5,702.2 535.5,700.6 539.5,695.2 543.5,694.9 547.5,697.4 551.5,701.2 555.5,700.7 559.5,700.4 563.5,702.5 567.5,710.4 571.5,706.5 575.5,714.5 579.5,718.8 583.5,716.9 587.5,711.4 591.5,710.1 595.5,728.8 599.5,736.4 603.5,741.9 607.5,751.7 611.5,742.2 615.5,743.6 619.5,738.6 623.5,735.5 627.5,736.3 631.5,742.1 635.5,735.2 639.5,740.0 643.5,750.9 647.5,753.1 651.5,751.4 655.5,745.6 659.5,737.9 663.5,735.0 667.5,738.5 671.5,749.7 675.5,751.2 679.5,760.2 683.5,760.3 687.5,755.7 691.5,759.2 695.5,764.0 699.5,755.6 703.5,756.5 707.5,748.8 711.5,743.1 715.5,745.1 719.5,734.0 723.5,734.3 727.5,734.9 731.5,730.6 735.5,744.7 739.5,757.8 743.5,761.3 747.5,762.4 751.5,765.0 755.5,759.2 759.5,753.7 763.5,754.6 767.5,755.9 771.5,747.2 775.5,734.3 779.5,737.3 783.5,736.6 787.5,738.2 791.5,727.2 795.5,728.1 799.5,724.0 803.5,725.3 807.5,734.7 811.5,730.8 815.5,740.1 819.5,740.1 823.5,739.4 827.5,733.2 831.5,735.2 835.5,741.8 839.5,742.1 843.5,741.1 847.5,741.7 851.5,735.8 855.5,737.5 859.5,725.4 863.5,720.7 867.5,722.3 871.5,726.0 875.5,729.7 879.5,722.7 883.5,731.2 887.5,743.1 891.5,742.3 895.5,756.1 899.5,747.0 903.5,748.0 907.5,748.9 911.5,751.0 915.5,751.7 919.5,754.4 923.5,741.2 927.5,744.5 931.5,739.4 935.5,736.6 939.5,734.8 943.5,731.5 947.5,737.0 951.5,730.3 955.5,728.1 959.5,741.8 963.5,743.5 967.5,734.0 971.5,731.2 975.5,730.7 979.5,724.6 983.5,719.1 987.5,721.2 991.5,719.8 995.5,726.7 999.5,735.6 1003.5,728.4 1007.5,726.4 1011.5,725.8 1015.5,720.5 1019.5,722.0 1023.5,719.3 1027.5,725.4 1031.5,724.7 1035.5,732.3 1039.5,723.5 1043.5,724.2 1047.5,718.3 1051.5,726.1 1055.5,728.2 1059.5,728.3 1063.5,731.8 1067.5,737.6 1071.5,729.2 1075.5,726.2 1079.5,730.7 1083.5,730.5 1087.5,720.5 1091.5,730.3 1095.5,724.0 1099.5,722.2 1103.5,727.4 1107.5,729.5 1111.5,728.2 1115.5,732.4 1119.5,731.2 1123.5,726.4 1127.5,724.4" fill="none" stroke="#1E90FF" stroke-width="1"/>
<rect x="2" y="22" width="1417" height="1" fill="#000"/><rect x="2" y="561" width="1417" height="1" fill="#000"/><rect x="2" y="22" width="1" height="540" fill="#000"/><rect x="1418" y="22" width="1" height="540" fill="#000"/>
<rect x="2" y="563" width="1417" height="1" fill="#000"/><rect x="2" y="666" width="1417" height="1" fill="#000"/><rect x="2" y="563" width="1" height="104" fill="#000"/><rect x="1418" y="563" width="1" height="104" fill="#000"/>
<rect x="2" y="668" width="1417" height="1" fill="#000"/><rect x="2" y="798" width="1417" height="1" fill="#000"/><rect x="2" y="668" width="1" height="131" fill="#000"/><rect x="1418" y="668" width="1" height="131" fill="#000"/>
<rect x="2" y="94" width="7" height="7" fill="#FF0000"/><rect x="5" y="97" width="1" height="1" fill="#fff"/><rect x="1412" y="94" width="7" height="7" fill="#FF0000"/><rect x="1415" y="97" width="1" height="1" fill="#fff"/>
<rect x="2" y="198" width="7" height="7" fill="#FF0000"/><rect x="5" y="201" width="1" height="1" fill="#fff"/><rect x="1412" y="198" width="7" height="7" fill="#FF0000"/><rect x="1415" y="201" width="1" height="1" fill="#fff"/>
<rect x="2" y="293" width="7" height="7" fill="#00FF00"/><rect x="5" y="296" width="1" height="1" fill="#fff"/><rect x="1412" y="293" width="7" height="7" fill="#00FF00"/><rect x="1415" y="296" width="1" height="1" fill="#fff"/>
<rect x="2" y="422" width="7" height="7" fill="#0000FF"/><rect x="5" y="425" width="1" height="1" fill="#fff"/><rect x="1412" y="422" width="7" height="7" fill="#0000FF"/><rect x="1415" y="425" width="1" height="1" fill="#fff"/>
<rect x="1418" y="96" width="2" height="3" fill="#FF0000"/>
<rect x="1418" y="200" width="2" height="3" fill="#FF0000"/>
<rect x="1418" y="295" width="2" height="3" fill="#00FF00"/>
<rect x="1418" y="424" width="2" height="3" fill="#0000FF"/>
<rect x="1418" y="511" width="2" height="3" fill="#0000FF"/>
<rect x="1418" y="277" width="2" height="1" fill="#c0c0c0"/>
<rect x="1419" y="30" width="2" height="1" fill="#000"/>
<rect x="1419" y="63" width="2" height="1" fill="#000"/>
<rect x="1419" y="96" width="2" height="1" fill="#000"/>
<rect x="1419" y="129" width="2" height="1" fill="#000"/>
<rect x="1419" y="162" width="2" height="1" fill="#000"/>
<rect x="1419" y="195" width="2" height="1" fill="#000"/>
<rect x="1419" y="228" width="2" height="1" fill="#000"/>
<rect x="1419" y="261" width="2" height="1" fill="#000"/>
<rect x="1419" y="294" width="2" height="1" fill="#000"/>
<rect x="1419" y="327" width="2" height="1" fill="#000"/>
<rect x="1419" y="360" width="2" height="1" fill="#000"/>
<rect x="1419" y="393" width="2" height="1" fill="#000"/>
<rect x="1419" y="426" width="2" height="1" fill="#000"/>
<rect x="1419" y="459" width="2" height="1" fill="#000"/>
<rect x="1419" y="492" width="2" height="1" fill="#000"/>
<rect x="1419" y="525" width="2" height="1" fill="#000"/>
<rect x="1419" y="558" width="2" height="1" fill="#000"/>
<rect x="1419" y="565" width="1" height="1" fill="#000"/>
<rect x="1419" y="610" width="1" height="1" fill="#000"/>
<rect x="1419" y="665" width="1" height="1" fill="#000"/>
<rect x="1419" y="670" width="1" height="1" fill="#000"/>
<rect x="1419" y="708" width="1" height="1" fill="#000"/>
<rect x="1419" y="759" width="1" height="1" fill="#000"/>
<rect x="1419" y="797" width="1" height="1" fill="#000"/>
<rect x="3" y="799" width="1" height="3" fill="#000"/>
<rect x="67" y="799" width="1" height="3" fill="#000"/>
<rect x="131" y="799" width="1" height="3" fill="#000"/>
<rect x="195" y="799" width="1" height="3" fill="#000"/>
<rect x="259" y="799" width="1" height="3" fill="#000"/>
<rect x="323" y="799" width="1" height="3" fill="#000"/>
<rect x="387" y="799" width="1" height="3" fill="#000"/>
<rect x="451" y="799" width="1" height="3" fill="#000"/>
<rect x="515" y="799" width="1" height="3" fill="#000"/>
<rect x="579" y="799" width="1" height="3" fill="#000"/>
<rect x="643" y="799" width="1" height="3" fill="#000"/>
<rect x="707" y="799" width="1" height="3" fill="#000"/>
<rect x="771" y="799" width="1" height="3" fill="#000"/>
<rect x="835" y="799" width="1" height="3" fill="#000"/>
<rect x="899" y="799" width="1" height="3" fill="#000"/>
<rect x="963" y="799" width="1" height="3" fill="#000"/>
<rect x="1027" y="799" width="1" height="3" fill="#000"/>
<rect x="1091" y="799" width="1" height="3" fill="#000"/>
</svg>
<div class="t k" style="left:1424.60px;top:27.00px;font-size:10px;line-height:10px;color:#000;transform:scaleX(0.8963);">1.02580</div>
<div class="t k" style="left:1424.60px;top:60.00px;font-size:10px;line-height:10px;color:#000;transform:scaleX(0.8963);">1.02200</div>
<div class="t k" style="left:1424.60px;top:126.00px;font-size:10px;line-height:10px;color:#000;transform:scaleX(0.8963);">1.01440</div>
<div class="t k" style="left:1424.60px;top:159.00px;font-size:10px;line-height:10px;color:#000;transform:scaleX(0.8963);">1.01050</div>
<div class="t k" style="left:1424.60px;top:192.00px;font-size:10px;line-height:10px;color:#000;transform:scaleX(0.8963);">1.00670</div>
<div class="t k" style="left:1424.60px;top:225.00px;font-size:10px;line-height:10px;color:#000;transform:scaleX(0.8963);">1.00290</div>
<div class="t k" style="left:1424.60px;top:258.00px;font-size:10px;line-height:10px;color:#000;transform:scaleX(0.8963);">0.99910</div>
<div class="t k" style="left:1424.60px;top:324.00px;font-size:10px;line-height:10px;color:#000;transform:scaleX(0.8963);">0.99140</div>
<div class="t k" style="left:1424.60px;top:357.00px;font-size:10px;line-height:10px;color:#000;transform:scaleX(0.8963);">0.98760</div>
<div class="t k" style="left:1424.60px;top:390.00px;font-size:10px;line-height:10px;color:#000;transform:scaleX(0.8963);">0.98380</div>
<div class="t k" style="left:1424.60px;top:456.00px;font-size:10px;line-height:10px;color:#000;transform:scaleX(0.8963);">0.97610</div>
<div class="t k" style="left:1424.60px;top:489.00px;font-size:10px;line-height:10px;color:#000;transform:scaleX(0.8963);">0.97230</div>
<div class="t k" style="left:1424.60px;top:522.00px;font-size:10px;line-height:10px;color:#000;transform:scaleX(0.8963);">0.96850</div>
<div class="t k" style="left:1424.60px;top:555.00px;font-size:10px;line-height:10px;color:#000;transform:scaleX(0.8963);">0.96470</div>
<div class="b" style="left:1420px;top:91px;width:40px;height:11px;background:#FF0000"></div>
<div class="t w" style="left:1424.60px;top:93.00px;font-size:10px;line-height:10px;color:#fff;transform:scaleX(0.8963);">1.01804</div>
<div class="b" style="left:1420px;top:195px;width:40px;height:11px;background:#FF0000"></div>
<div class="t w" style="left:1424.60px;top:197.00px;font-size:10px;line-height:10px;color:#fff;transform:scaleX(0.8963);">1.00602</div>
<div class="b" style="left:1420px;top:272px;width:40px;height:11px;background:#000"></div>
<div class="t w" style="left:1424.60px;top:274.00px;font-size:10px;line-height:10px;color:#fff;transform:scaleX(0.8963);">0.99727</div>
<div class="b" style="left:1420px;top:290px;width:40px;height:11px;background:#00FF00"></div>
<div class="t w" style="left:1424.60px;top:292.00px;font-size:10px;line-height:10px;color:#fff;transform:scaleX(0.8963);">0.99501</div>
<div class="b" style="left:1420px;top:419px;width:40px;height:11px;background:#0000FF"></div>
<div class="t w" style="left:1424.60px;top:421.00px;font-size:10px;line-height:10px;color:#fff;transform:scaleX(0.8963);">0.98005</div>
<div class="b" style="left:1420px;top:506px;width:40px;height:11px;background:#0000FF"></div>
<div class="t w" style="left:1424.60px;top:508.00px;font-size:10px;line-height:10px;color:#fff;transform:scaleX(0.8963);">0.97007</div>
<div class="t k" style="left:1422.30px;top:567.00px;font-size:10px;line-height:10px;color:#000;transform:scaleX(0.8963);">0.00613</div>
<div class="t k" style="left:1421.60px;top:607.00px;font-size:10px;line-height:10px;color:#000;transform:scaleX(0.9762);">0.00</div>
<div class="t k" style="left:1422.00px;top:656.00px;font-size:10px;line-height:10px;color:#000;transform:scaleX(0.9769);">-0.007612</div>
<div class="t k" style="left:1422.50px;top:672.00px;font-size:10px;line-height:10px;color:#000;transform:scaleX(0.8690);">100</div>
<div class="t k" style="left:1423.00px;top:705.00px;font-size:10px;line-height:10px;color:#000;transform:scaleX(0.8990);">70</div>
<div class="t k" style="left:1423.00px;top:756.00px;font-size:10px;line-height:10px;color:#000;transform:scaleX(0.8990);">30</div>
<div class="t k" style="left:1422.50px;top:788.00px;font-size:10px;line-height:10px;color:#000;transform:scaleX(0.8630);">0</div>
<svg width="20" height="10" style="left:6px;top:27px" viewBox="0 0 20 10"><path d="M0.5 6 L7 6 L3.75 2 Z" fill="#000"/></svg>
<div class="t k" style="left:17.75px;top:27.00px;font-size:10px;line-height:10px;color:#000;transform:scaleX(0.9771);">USDCHF-,Daily</div>
<div class="t k" style="left:91.35px;top:27.00px;font-size:10px;line-height:10px;color:#000;transform:scaleX(0.9489);">0.99604</div>
<div class="t k" style="left:127.55px;top:27.00px;font-size:10px;line-height:10px;color:#000;transform:scaleX(0.9240);">0.99896</div>
<div class="t k" style="left:163.75px;top:27.00px;font-size:10px;line-height:10px;color:#000;transform:scaleX(0.9212);">0.99566</div>
<div class="t k" style="left:199.55px;top:27.00px;font-size:10px;line-height:10px;color:#000;transform:scaleX(0.9323);">0.99727</div>
<div class="t k" style="left:6.85px;top:569.00px;font-size:10px;line-height:10px;color:#000;transform:scaleX(0.9659);">MACD(12,26,9)</div>
<div class="t k" style="left:76.05px;top:569.00px;font-size:10px;line-height:10px;color:#000;transform:scaleX(0.9182);">0.001830</div>
<div class="t k" style="left:116.85px;top:569.00px;font-size:10px;line-height:10px;color:#000;transform:scaleX(0.9254);">0.001992</div>
<div class="t k" style="left:6.85px;top:674.00px;font-size:10px;line-height:10px;color:#000;transform:scaleX(0.9520);">RSI(14)</div>
<div class="t k" style="left:41.55px;top:674.00px;font-size:10px;line-height:10px;color:#000;transform:scaleX(0.9350);">57.3195</div>
<div class="t k" style="left:2.00px;top:804.00px;font-size:10px;line-height:10px;color:#000;transform:scaleX(0.9530);">16 Nov 2018</div>
<div class="t k" style="left:66.00px;top:804.00px;font-size:10px;line-height:10px;color:#000;transform:scaleX(0.9530);">5 Dec 2018</div>
<div class="t k" style="left:130.00px;top:804.00px;font-size:10px;line-height:10px;color:#000;transform:scaleX(0.9530);">24 Dec 2018</div>
<div class="t k" style="left:194.00px;top:804.00px;font-size:10px;line-height:10px;color:#000;transform:scaleX(0.9530);">11 Jan 2019</div>
<div class="t k" style="left:258.00px;top:804.00px;font-size:10px;line-height:10px;color:#000;transform:scaleX(0.9530);">30 Jan 2019</div>
<div class="t k" style="left:322.00px;top:804.00px;font-size:10px;line-height:10px;color:#000;transform:scaleX(0.9530);">18 Feb 2019</div>
<div class="t k" style="left:386.00px;top:804.00px;font-size:10px;line-height:10px;color:#000;transform:scaleX(0.9530);">8 Mar 2019</div>
<div class="t k" style="left:450.00px;top:804.00px;font-size:10px;line-height:10px;color:#000;transform:scaleX(0.9530);">27 Mar 2019</div>
<div class="t k" style="left:514.00px;top:804.00px;font-size:10px;line-height:10px;color:#000;transform:scaleX(0.9530);">15 Apr 2019</div>
<div class="t k" style="left:578.00px;top:804.00px;font-size:10px;line-height:10px;color:#000;transform:scaleX(0.9530);">5 May 2019</div>
<div class="t k" style="left:642.00px;top:804.00px;font-size:10px;line-height:10px;color:#000;transform:scaleX(0.9530);">23 May 2019</div>
<div class="t k" style="left:706.00px;top:804.00px;font-size:10px;line-height:10px;color:#000;transform:scaleX(0.9530);">11 Jun 2019</div>
<div class="t k" style="left:770.00px;top:804.00px;font-size:10px;line-height:10px;color:#000;transform:scaleX(0.9530);">30 Jun 2019</div>
<div class="t k" style="left:834.00px;top:804.00px;font-size:10px;line-height:10px;color:#000;transform:scaleX(0.9530);">18 Jul 2019</div>
<div class="t k" style="left:898.00px;top:804.00px;font-size:10px;line-height:10px;color:#000;transform:scaleX(0.9530);">6 Aug 2019</div>
<div class="t k" style="left:962.00px;top:804.00px;font-size:10px;line-height:10px;color:#000;transform:scaleX(0.9530);">25 Aug 2019</div>
<div class="t k" style="left:1026.00px;top:804.00px;font-size:10px;line-height:10px;color:#000;transform:scaleX(0.9530);">12 Sep 2019</div>
<div class="t k" style="left:1090.00px;top:804.00px;font-size:10px;line-height:10px;color:#000;transform:scaleX(0.9530);">1 Oct 2019</div>
<div class="b" style="left:4px;top:40px;width:223px;height:67px;background:#fff"></div>
<div class="b" style="left:6px;top:42px;width:52px;height:25px;background:linear-gradient(#5854fa,#3a34e0);box-shadow:inset 0 1px 0 #2a24c8,inset 1px 0 0 #2a24c8,inset -1px 0 0 #2a24c8"></div>
<div class="b" style="left:173px;top:42px;width:52px;height:25px;background:linear-gradient(#5854fa,#3a34e0);box-shadow:inset 0 1px 0 #2a24c8,inset 1px 0 0 #2a24c8,inset -1px 0 0 #2a24c8"></div>
<div class="b" style="left:6px;top:66px;width:109px;height:40px;background:linear-gradient(#3a34e0 0%,#1c14c8 45%,#0400ac 100%);box-shadow:inset 0 -1px 0 #0000a0,inset 1px 0 0 #1a14b8,inset -1px 0 0 #1a14b8"></div>
<div class="b" style="left:117px;top:66px;width:108px;height:40px;background:linear-gradient(#3a34e0 0%,#1c14c8 45%,#0400ac 100%);box-shadow:inset 0 -1px 0 #0000a0,inset 1px 0 0 #1a14b8,inset -1px 0 0 #1a14b8"></div>
<div class="b" style="left:10px;top:65px;width:44px;height:1px;background:#1c16b0"></div><div class="b" style="left:10px;top:66px;width:44px;height:1px;background:#8884ec"></div>
<div class="b" style="left:177px;top:65px;width:44px;height:1px;background:#1c16b0"></div><div class="b" style="left:177px;top:66px;width:44px;height:1px;background:#8884ec"></div>
<div class="t" style="left:18.75px;top:48.00px;font-size:12px;line-height:12px;color:#fff;transform:scaleX(0.8516);">SELL</div>
<div class="t" style="left:186.20px;top:48.00px;font-size:12px;line-height:12px;color:#fff;transform:scaleX(0.9564);">BUY</div>
<div class="t" style="left:26.25px;top:86.00px;font-size:12px;line-height:12px;color:#fff;font-weight:bold;transform:scaleX(1.0147);">0.99</div>
<svg width="60" height="40" style="left:52.75px;top:64.50px" viewBox="0 0 60 40" shape-rendering="auto"><defs><mask id="m1"><text x="0" y="32.25" font-family="Liberation Sans, sans-serif" font-size="33.87" transform="scale(0.9626 1)" fill="#fff" stroke="#000" stroke-width="0.6">72</text></mask></defs><rect x="0" y="0" width="60" height="40" fill="#fff" mask="url(#m1)"/></svg>
<div class="t" style="left:93.30px;top:71.00px;font-size:12px;line-height:12px;color:#fff;font-weight:bold;transform:scaleX(0.9440);">7</div>
<div class="t" style="left:136.00px;top:86.00px;font-size:12px;line-height:12px;color:#fff;font-weight:bold;transform:scaleX(1.0147);">0.99</div>
<svg width="60" height="40" style="left:163.53px;top:64.50px" viewBox="0 0 60 40" shape-rendering="auto"><defs><mask id="m2"><text x="0" y="32.25" font-family="Liberation Sans, sans-serif" font-size="33.87" transform="scale(0.9732 1)" fill="#fff" stroke="#000" stroke-width="0.6">75</text></mask></defs><rect x="0" y="0" width="60" height="40" fill="#fff" mask="url(#m2)"/></svg>
<div class="t" style="left:204.70px;top:71.00px;font-size:12px;line-height:12px;color:#fff;font-weight:bold;transform:scaleX(0.8541);">1</div>
<div class="b" style="left:60px;top:42px;width:111px;height:22px;background:#fff;border:1px solid #a6a6a6;box-sizing:border-box"></div>
<div class="b" style="left:61px;top:43px;width:20px;height:20px;background:linear-gradient(#f0f0f0 0%,#e6e6e6 45%,#d4d4d4 50%,#cfcfcf 100%);border-right:1px solid #a6a6a6"></div>
<div class="b" style="left:150px;top:43px;width:20px;height:20px;background:linear-gradient(#f0f0f0 0%,#e6e6e6 45%,#d4d4d4 50%,#cfcfcf 100%);border-left:1px solid #a6a6a6;box-sizing:border-box"></div>
<svg width="8" height="5" style="left:67px;top:51px" viewBox="0 0 8 5"><path d="M1.2 0.4 L6.4 0.4 L3.8 3.4 Z" fill="#4a5aa8"/></svg>
<svg width="8" height="5" style="left:156px;top:50px" viewBox="0 0 8 5"><path d="M1.1 4 L6.3 4 L3.7 1 Z" fill="#4a5aa8"/></svg>
<div class="t" style="left:122.50px;top:47.00px;font-size:12px;line-height:12px;color:#000;transform:scaleX(0.9848);">1.00</div>
<div class="b" style="left:0;top:819px;width:1460px;height:1px;background:#e8e8e8"></div>
<div class="b" style="left:0;top:823px;width:1460px;height:17px;background:#f0f0f0"></div>
<div class="b" style="left:0;top:821px;width:1460px;height:1px;background:#000"></div>
<div class="b" style="left:220px;top:821px;width:108px;height:18px;background:#fff;border:1px solid #000;border-top:none;box-sizing:border-box"></div>
<div class="t" style="left:15.00px;top:825.00px;font-size:12px;line-height:12px;color:#6e6e78;">EURUSD-,Daily</div>
<div class="t" style="left:122.00px;top:825.00px;font-size:12px;line-height:12px;color:#6e6e78;transform:scaleX(1.0274);">AUDUSD-,Daily</div>
<div class="t" style="left:232.80px;top:825.00px;font-size:12px;line-height:12px;color:#000;transform:scaleX(0.9857);">USDCHF-,Daily</div>
<div class="t" style="left:339.00px;top:825.00px;font-size:12px;line-height:12px;color:#6e6e78;transform:scaleX(1.0274);">USDCAD-,Daily</div>
<div class="t" style="left:448.00px;top:825.00px;font-size:12px;line-height:12px;color:#6e6e78;transform:scaleX(1.0312);">USDCNH-,Daily</div>
<div class="t" style="left:559.00px;top:825.00px;font-size:12px;line-height:12px;color:#6e6e78;transform:scaleX(1.0057);">EURCHF-,Weekly</div>
<div class="t" style="left:679.00px;top:825.00px;font-size:12px;line-height:12px;color:#6e6e78;transform:scaleX(1.0470);">XAUUSD-,Weekly</div>
<div class="t" style="left:803.00px;top:825.00px;font-size:12px;line-height:12px;color:#6e6e78;">GBPUSD-,H1</div>
<div class="t" style="left:899.00px;top:825.00px;font-size:12px;line-height:12px;color:#6e6e78;transform:scaleX(1.0554);">UKOil-,H1</div>
<div class="t" style="left:978.00px;top:825.00px;font-size:12px;line-height:12px;color:#6e6e78;transform:scaleX(1.0402);">USDX-,Weekly</div>
<div class="t" style="left:1082.00px;top:825.00px;font-size:12px;line-height:12px;color:#6e6e78;transform:scaleX(0.9770);">EURCHF-,H1</div>
<div class="t" style="left:1175.00px;top:825.00px;font-size:12px;line-height:12px;color:#6e6e78;transform:scaleX(1.0554);">USOil-,H1</div>
<div class="b" style="left:112px;top:824px;width:1px;height:13px;background:#6e6e6e"></div>
<div class="b" style="left:437px;top:824px;width:1px;height:13px;background:#6e6e6e"></div>
<div class="b" style="left:548px;top:824px;width:1px;height:13px;background:#6e6e6e"></div>
<div class="b" style="left:668px;top:824px;width:1px;height:13px;background:#6e6e6e"></div>
<div class="b" style="left:792px;top:824px;width:1px;height:13px;background:#6e6e6e"></div>
<div class="b" style="left:888px;top:824px;width:1px;height:13px;background:#6e6e6e"></div>
<div class="b" style="left:967px;top:824px;width:1px;height:13px;background:#6e6e6e"></div>
<div class="b" style="left:1072px;top:824px;width:1px;height:13px;background:#6e6e6e"></div>
<div class="b" style="left:1164px;top:824px;width:1px;height:13px;background:#6e6e6e"></div>
<div class="b" style="left:1243px;top:824px;width:1px;height:13px;background:#6e6e6e"></div>
<svg width="40" height="12" style="left:1422px;top:825px" viewBox="0 0 40 12"><path d="M15.2 2 L15.2 8.2 L12 5.1 Z M31 2 L31 8.2 L34.2 5.1 Z" fill="#8c8c8c" shape-rendering="auto"/></svg>
</body></html>
